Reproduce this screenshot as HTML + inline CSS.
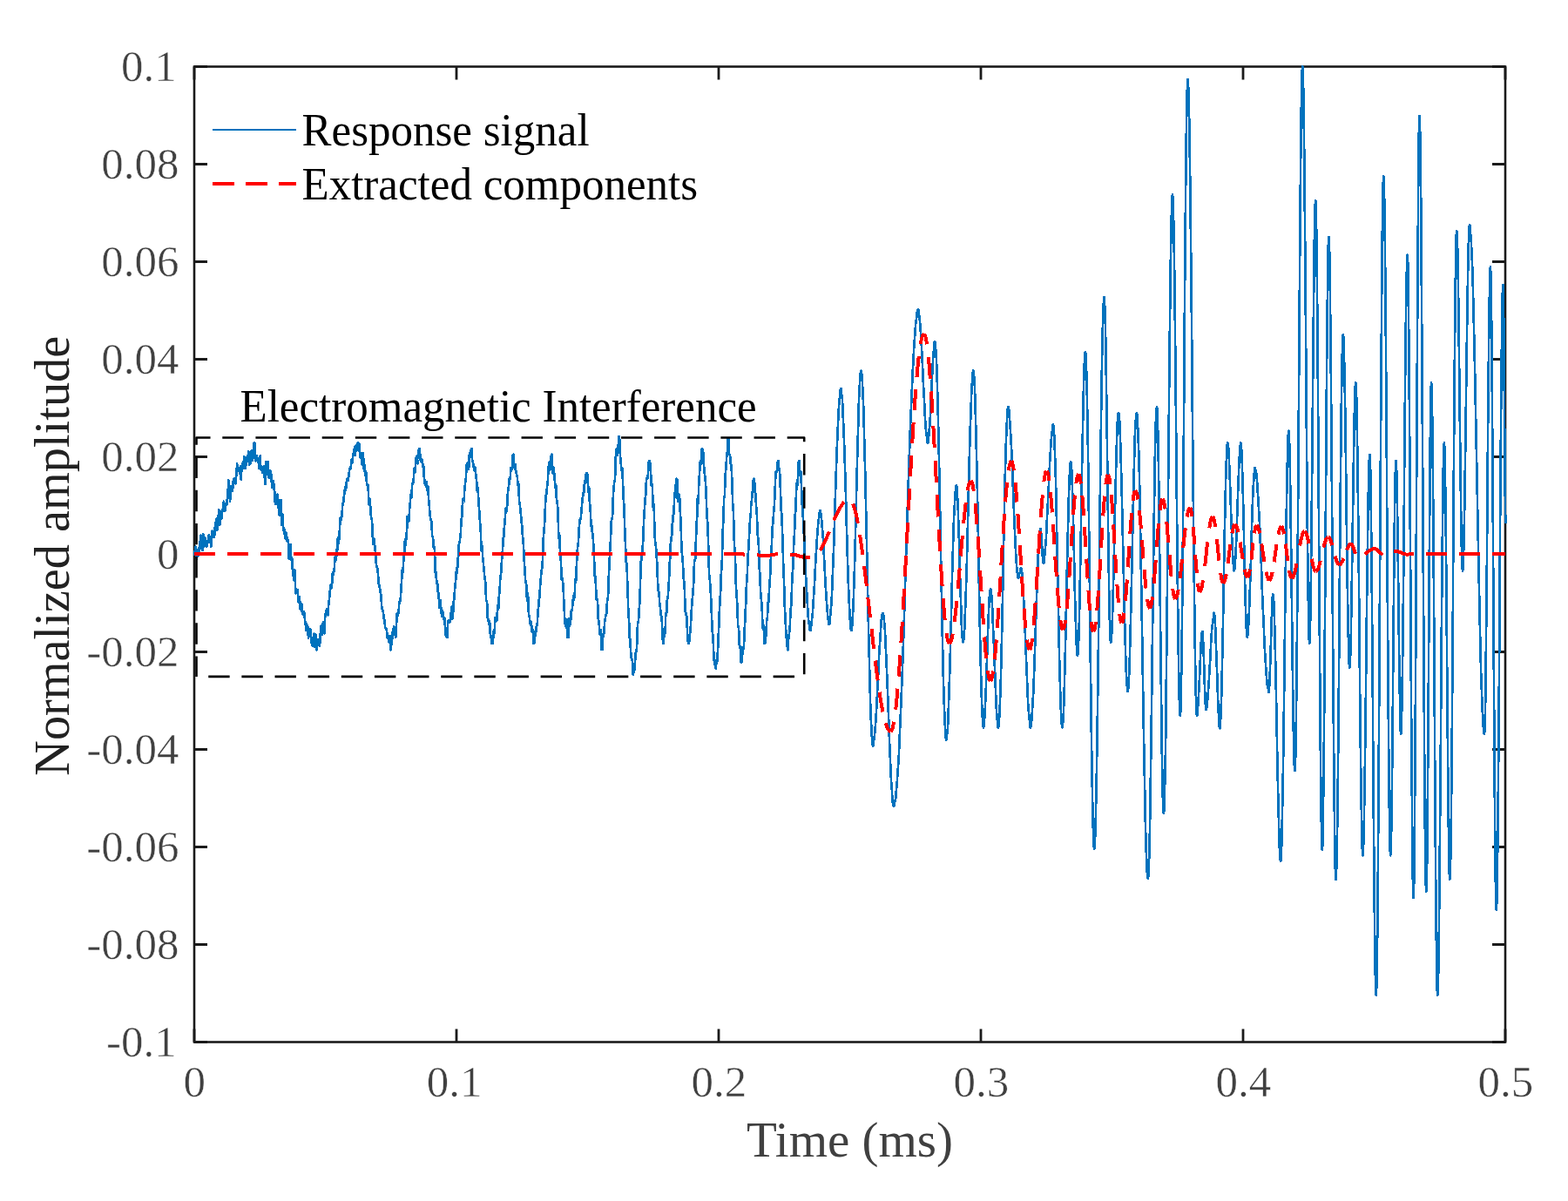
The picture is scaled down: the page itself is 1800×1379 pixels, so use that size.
<!DOCTYPE html>
<html><head><meta charset="utf-8"><style>
html,body{margin:0;padding:0;background:#fff;}
body{width:1800px;height:1379px;overflow:hidden;}
svg{display:block;}
text{font-family:"Liberation Serif","Times New Roman",serif;}
</style></head><body>
<svg width="1800" height="1379" viewBox="0 0 1800 1379">
<rect width="1800" height="1379" fill="#fff"/>
<path d="M223.0 1196.5V1181.5M223.0 76.5V91.5M524.0 1196.5V1181.5M524.0 76.5V91.5M825.0 1196.5V1181.5M825.0 76.5V91.5M1126.0 1196.5V1181.5M1126.0 76.5V91.5M1427.0 1196.5V1181.5M1427.0 76.5V91.5M1728.0 1196.5V1181.5M1728.0 76.5V91.5M223 76.5H238M1728 76.5H1713M223 188.5H238M1728 188.5H1713M223 300.5H238M1728 300.5H1713M223 412.5H238M1728 412.5H1713M223 524.5H238M1728 524.5H1713M223 636.5H238M1728 636.5H1713M223 748.5H238M1728 748.5H1713M223 860.5H238M1728 860.5H1713M223 972.5H238M1728 972.5H1713M223 1084.5H238M1728 1084.5H1713M223 1196.5H238M1728 1196.5H1713" stroke="#1a1a1a" stroke-width="2.8" fill="none"/>
<rect x="223" y="76.5" width="1505" height="1120" fill="none" stroke="#1a1a1a" stroke-width="2.6"/>
<g fill="none" stroke-linejoin="round">
<path d="M223.0 636.0L223.4 636.9 223.8 632.7 224.2 628.7 224.6 627.8 225.0 629.0 225.4 637.0 225.8 642.0 226.2 634.7 226.6 631.7 227.0 637.2 227.4 638.7 227.8 633.7 228.2 629.4 228.6 633.4 229.0 634.0 229.4 626.7 229.8 621.5 230.2 617.2 230.6 614.8 231.0 617.5 231.4 621.8 231.8 624.5 232.2 629.7 232.6 632.0 233.0 622.6 233.4 613.5 233.8 619.1 234.2 627.6 234.6 624.7 235.0 618.2 235.4 617.6 235.8 617.7 236.2 622.1 236.6 627.3 237.0 623.6 237.4 624.7 237.8 627.4 238.2 622.3 238.6 620.8 239.0 622.7 239.4 618.7 239.8 614.2 240.2 621.0 240.5 623.0 240.9 616.2 241.3 618.8 241.7 618.6 242.1 618.9 242.5 627.5 242.9 621.6 243.3 609.7 243.7 612.0 244.1 615.5 244.5 614.2 244.9 614.1 245.3 613.5 245.7 617.0 246.1 616.6 246.5 608.3 246.9 604.5 247.3 604.0 247.7 600.8 248.1 595.8 248.5 595.7 248.9 601.9 249.3 609.0 249.7 605.6 250.1 592.7 250.5 591.9 250.9 593.1 251.3 585.6 251.7 586.8 252.1 596.3 252.5 602.5 252.9 599.2 253.3 590.7 253.7 586.9 254.1 591.5 254.5 595.5 254.9 588.7 255.3 584.8 255.7 586.5 256.1 584.5 256.5 579.1 256.9 575.7 257.3 577.2 257.7 581.5 258.1 587.1 258.5 585.8 258.9 581.4 259.3 579.6 259.7 578.8 260.1 579.8 260.5 578.5 260.9 572.5 261.3 567.1 261.7 564.3 262.1 555.4 262.5 551.5 262.9 557.8 263.3 561.4 263.7 570.8 264.1 576.1 264.5 564.0 264.9 557.8 265.3 563.1 265.7 564.2 266.1 560.2 266.5 559.8 266.9 563.5 267.3 559.7 267.7 552.1 268.1 552.6 268.5 552.0 268.9 549.0 269.3 549.3 269.7 551.1 270.1 555.3 270.5 554.9 270.9 549.3 271.3 545.7 271.7 540.2 272.1 532.5 272.5 535.6 272.9 538.7 273.3 536.5 273.7 538.3 274.1 538.4 274.5 540.0 274.8 541.9 275.2 544.1 275.6 539.6 276.0 535.5 276.4 546.6 276.8 550.7 277.2 541.4 277.6 535.6 278.0 532.7 278.4 533.7 278.8 538.0 279.2 535.4 279.6 530.8 280.0 527.9 280.4 524.4 280.8 527.9 281.2 536.1 281.6 538.0 282.0 537.2 282.4 532.5 282.8 526.3 283.2 525.3 283.6 526.3 284.0 527.4 284.4 526.7 284.8 522.6 285.2 518.0 285.6 525.0 286.0 533.8 286.4 526.1 286.8 521.0 287.2 530.7 287.6 532.5 288.0 522.5 288.4 520.0 288.8 517.8 289.2 517.1 289.6 525.9 290.0 528.9 290.4 524.8 290.8 523.8 291.2 525.4 291.6 508.5 292.0 508.5 292.4 508.5 292.8 520.2 293.2 529.3 293.6 528.5 294.0 526.9 294.4 526.3 294.8 523.0 295.2 524.9 295.6 528.8 296.0 527.4 296.4 526.4 296.8 531.4 297.2 537.4 297.6 537.4 298.0 531.9 298.4 523.7 298.8 523.3 299.2 534.9 299.6 538.9 300.0 535.1 300.4 537.0 300.8 541.0 301.2 542.8 301.6 540.1 302.0 538.8 302.4 538.8 302.8 535.3 303.2 539.1 303.6 544.9 303.9 549.6 304.3 556.1 304.7 549.9 305.1 532.9 305.5 530.3 305.9 538.7 306.3 539.1 306.7 542.9 307.1 544.5 307.5 532.2 307.9 530.2 308.3 542.8 308.7 548.5 309.1 548.1 309.5 547.3 309.9 542.1 310.3 540.7 310.7 545.4 311.1 543.8 311.5 544.9 311.9 554.8 312.3 560.2 312.7 558.5 313.1 554.0 313.5 552.1 313.9 552.6 314.3 556.6 314.7 561.6 315.1 563.7 315.5 568.6 315.9 578.0 316.3 579.1 316.7 572.2 317.1 574.0 317.5 576.6 317.9 571.5 318.3 567.7 318.7 574.1 319.1 582.9 319.5 583.5 319.9 582.4 320.3 586.4 320.7 591.7 321.1 584.3 321.5 574.3 321.9 574.5 322.3 574.0 322.7 575.5 323.1 586.5 323.5 602.8 323.9 598.8 324.3 590.3 324.7 595.7 325.1 607.0 325.5 608.6 325.9 606.5 326.3 607.5 326.7 611.5 327.1 617.0 327.5 618.4 327.8 613.7 328.2 611.6 328.6 615.1 329.0 619.4 329.4 621.1 329.8 617.5 330.2 619.2 330.6 621.0 331.0 624.2 331.4 638.8 331.8 642.2 332.2 635.8 332.6 638.3 333.0 633.1 333.4 625.1 333.8 634.2 334.2 643.1 334.6 641.7 335.0 639.9 335.4 643.5 335.8 652.3 336.2 660.0 336.6 660.1 337.0 662.1 337.4 666.0 337.8 660.9 338.2 653.8 338.6 657.8 339.0 673.3 339.4 681.4 339.8 680.6 340.2 677.4 340.6 676.7 341.0 677.0 341.4 677.2 341.8 678.8 342.2 684.8 342.6 691.2 343.0 690.8 343.4 687.0 343.8 685.2 344.2 690.2 344.6 698.7 345.0 699.6 345.4 696.4 345.8 693.8 346.2 693.6 346.6 699.8 347.0 704.7 347.4 703.3 347.8 702.9 348.2 705.4 348.6 704.7 349.0 702.5 349.4 704.7 349.8 709.8 350.2 713.6 350.6 714.4 351.0 719.7 351.4 723.8 351.7 718.8 352.1 716.6 352.5 719.9 352.9 719.8 353.3 719.3 353.7 727.4 354.1 733.0 354.5 727.9 354.9 722.6 355.3 722.9 355.7 724.4 356.1 721.8 356.5 724.8 356.9 731.0 357.3 731.7 357.7 736.8 358.1 740.7 358.5 737.5 358.9 739.5 359.3 741.9 359.7 735.5 360.1 728.3 360.5 727.5 360.9 734.9 361.3 742.8 361.7 739.9 362.1 731.4 362.5 728.6 362.9 746.2 363.3 746.2 363.7 746.2 364.1 736.1 364.5 735.9 364.9 733.9 365.3 733.9 365.7 734.5 366.1 734.5 366.5 738.6 366.9 742.1 367.3 737.9 367.7 728.7 368.1 723.9 368.5 723.2 368.9 718.0 369.3 719.0 369.7 727.9 370.1 729.0 370.5 720.8 370.9 714.1 371.2 714.3 371.6 717.1 372.0 723.6 372.4 727.2 372.8 718.5 373.2 707.8 373.6 704.7 374.0 706.4 374.4 704.3 374.8 700.7 375.2 699.4 375.6 699.4 376.0 703.9 376.4 706.2 376.8 700.9 377.2 694.3 377.6 691.6 378.0 688.2 378.4 683.5 378.8 678.9 379.2 672.3 379.6 671.9 380.0 676.2 380.4 675.1 380.8 673.8 381.2 669.6 381.6 659.3 382.0 656.9 382.4 660.6 382.8 659.2 383.2 656.6 383.6 656.4 384.0 650.3 384.4 640.6 384.8 639.6 385.2 643.8 385.6 638.3 386.0 631.7 386.4 635.9 386.8 638.1 387.1 633.3 387.5 625.1 387.9 617.4 388.3 618.9 388.7 623.8 389.1 621.0 389.5 615.3 389.9 608.6 390.3 600.8 390.7 594.9 391.1 596.5 391.5 597.4 391.9 593.1 392.3 593.9 392.7 590.1 393.1 581.5 393.5 578.3 393.9 577.9 394.3 576.1 394.7 571.9 395.1 568.3 395.5 566.0 395.9 561.1 396.3 558.8 396.7 562.9 397.1 562.1 397.5 555.0 397.9 552.9 398.3 550.5 398.7 549.5 399.1 551.5 399.5 551.8 399.9 550.7 400.3 546.0 400.7 543.1 401.1 540.1 401.5 537.7 401.9 539.0 402.3 538.7 402.7 537.5 403.1 532.8 403.4 527.8 403.8 528.7 404.2 532.0 404.6 531.0 405.0 525.9 405.4 521.1 405.8 519.9 406.2 521.7 406.6 517.1 407.0 513.4 407.4 520.8 407.8 523.1 408.2 515.1 408.6 511.7 409.0 512.8 409.4 514.7 409.8 517.4 410.2 515.6 410.6 508.5 411.0 508.5 411.4 508.6 411.8 518.0 412.2 514.5 412.6 509.7 413.0 514.8 413.4 524.8 413.8 525.4 414.2 523.5 414.6 524.9 415.0 526.0 415.4 531.0 415.7 533.7 416.1 525.8 416.5 520.3 416.9 522.4 417.3 528.2 417.7 538.1 418.1 541.0 418.5 535.0 418.9 533.8 419.3 543.0 419.7 546.0 420.1 541.6 420.5 545.9 420.9 553.1 421.3 556.8 421.7 556.8 422.1 556.1 422.5 556.6 422.9 564.1 423.3 576.7 423.7 579.8 424.1 575.8 424.5 572.5 424.9 573.7 425.2 581.8 425.6 589.5 426.0 593.4 426.4 594.6 426.8 595.9 427.2 601.7 427.6 610.2 428.0 620.4 428.4 624.9 428.8 620.1 429.2 618.4 429.6 622.5 430.0 625.0 430.4 628.3 430.8 632.4 431.2 636.7 431.6 643.5 432.0 648.2 432.4 650.8 432.8 652.1 433.2 652.0 433.6 654.8 434.0 660.0 434.4 665.1 434.7 670.5 435.1 671.6 435.5 671.7 435.9 675.0 436.3 676.7 436.7 680.5 437.1 682.6 437.5 683.3 437.9 691.4 438.3 698.2 438.7 699.2 439.1 700.1 439.5 701.1 439.9 702.6 440.3 706.0 440.7 709.8 441.1 711.4 441.5 712.4 441.9 717.4 442.3 721.2 442.7 721.0 443.1 722.9 443.5 723.3 443.9 722.1 444.2 727.1 444.6 731.9 445.0 732.9 445.4 732.3 445.8 729.9 446.2 732.0 446.6 736.7 447.0 737.8 447.4 733.3 447.8 730.3 448.2 746.1 448.6 746.2 449.0 746.1 449.4 734.7 449.8 730.5 450.2 734.3 450.6 729.4 451.0 722.5 451.4 724.8 451.8 722.3 452.2 719.4 452.6 725.0 453.0 729.2 453.4 726.0 453.8 726.4 454.2 731.5 454.6 728.3 455.0 718.5 455.4 710.0 455.8 704.2 456.2 704.1 456.6 707.1 457.0 705.9 457.4 703.5 457.8 699.9 458.2 692.8 458.6 690.5 459.0 691.5 459.4 690.1 459.8 687.0 460.2 680.2 460.6 673.7 461.0 668.5 461.4 659.2 461.8 654.6 462.2 657.2 462.6 656.0 463.0 648.2 463.4 639.5 463.8 636.4 464.2 633.6 464.6 625.2 465.0 619.6 465.3 622.4 465.7 626.4 466.1 620.8 466.5 612.9 466.9 610.9 467.3 604.2 467.7 592.9 468.1 594.0 468.5 598.6 468.9 598.9 469.3 598.5 469.7 593.0 470.1 584.9 470.5 580.6 470.9 576.5 471.3 569.7 471.7 567.8 472.1 571.7 472.5 570.6 472.9 561.3 473.3 555.1 473.7 556.0 474.1 555.8 474.5 553.1 474.9 549.0 475.3 541.5 475.7 537.5 476.1 539.1 476.5 541.8 476.9 538.0 477.3 527.7 477.7 526.0 478.1 529.0 478.5 524.6 478.9 523.3 479.3 530.1 479.7 532.4 480.1 528.7 480.5 527.5 480.9 515.1 481.3 515.0 481.7 515.1 482.1 523.1 482.5 521.7 482.9 524.8 483.3 526.8 483.7 530.6 484.1 530.2 484.5 527.7 484.9 529.7 485.3 534.0 485.7 536.7 486.1 535.0 486.5 537.8 486.9 549.0 487.3 553.4 487.7 555.6 488.1 551.7 488.5 553.5 488.9 558.4 489.3 555.2 489.7 553.3 490.1 559.6 490.5 563.5 490.9 560.3 491.3 558.3 491.7 564.7 492.1 574.1 492.5 577.2 492.9 581.0 493.3 588.0 493.7 592.0 494.1 594.3 494.5 596.6 494.9 597.4 495.3 599.1 495.7 605.6 496.1 614.5 496.5 616.5 496.9 615.9 497.3 620.1 497.7 627.1 498.1 630.3 498.5 627.7 498.9 630.5 499.3 644.0 499.7 657.3 500.1 658.8 500.5 656.6 500.9 664.2 501.3 670.2 501.7 666.8 502.1 668.3 502.5 676.4 502.9 680.3 503.3 680.4 503.7 684.0 504.1 694.2 504.5 697.8 504.9 696.9 505.3 692.3 505.7 689.5 506.1 695.7 506.5 701.5 506.9 705.2 507.3 707.6 507.7 703.2 508.1 701.7 508.5 706.9 508.9 709.1 509.3 709.5 509.7 711.1 510.1 708.9 510.5 709.7 510.9 719.1 511.3 724.9 511.7 728.9 512.1 730.8 512.5 721.2 512.9 731.9 513.3 732.0 513.7 731.9 514.1 716.2 514.5 715.3 514.9 712.1 515.3 712.8 515.7 712.6 516.1 714.1 516.5 714.3 516.9 711.5 517.3 709.3 517.7 705.7 518.1 700.1 518.5 696.7 518.9 702.6 519.3 710.7 519.7 707.9 520.1 704.9 520.5 695.1 520.9 689.3 521.3 688.7 521.7 683.4 522.1 676.2 522.5 672.4 522.9 668.6 523.3 664.0 523.7 658.4 524.1 652.4 524.5 654.5 524.9 657.9 525.3 649.1 525.7 640.9 526.1 639.7 526.5 634.0 526.9 624.3 527.3 622.3 527.7 623.0 528.1 618.0 528.5 614.6 528.9 611.3 529.3 602.4 529.7 595.4 530.1 594.5 530.5 590.3 530.9 578.9 531.3 573.4 531.7 575.1 532.1 576.4 532.5 576.5 532.9 569.9 533.3 560.7 533.7 558.6 534.1 555.1 534.5 550.8 534.9 549.0 535.3 540.4 535.7 533.6 536.1 533.3 536.5 531.6 536.9 532.7 537.3 536.5 537.7 539.1 538.1 539.0 538.5 530.1 538.9 521.3 539.3 520.3 539.7 519.8 540.1 520.9 540.5 524.4 540.9 515.1 541.3 515.0 541.7 515.1 542.1 528.3 542.5 528.7 542.9 530.7 543.3 532.3 543.7 534.9 544.1 538.7 544.4 539.8 544.8 540.3 545.2 539.0 545.6 536.8 546.0 541.1 546.4 547.5 546.8 549.5 547.2 553.8 547.6 563.5 548.0 564.7 548.4 559.4 548.8 561.9 549.2 571.7 549.6 578.7 550.0 583.0 550.3 588.4 550.7 594.5 551.1 600.3 551.5 604.1 551.9 611.6 552.3 625.6 552.7 632.2 553.1 627.2 553.5 626.6 553.9 634.8 554.3 641.9 554.7 643.9 555.1 648.7 555.5 655.1 555.9 657.2 556.2 661.2 556.6 664.6 557.0 666.5 557.4 671.0 557.8 682.0 558.2 689.9 558.6 690.5 559.0 689.8 559.4 698.2 559.8 709.0 560.2 712.5 560.6 710.7 561.0 712.0 561.4 716.6 561.8 715.8 562.1 713.7 562.5 720.3 562.9 729.3 563.3 732.0 563.7 731.0 564.1 729.8 564.5 738.9 564.9 739.0 565.3 738.9 565.7 738.5 566.1 734.0 566.5 725.3 566.9 724.1 567.3 727.0 567.7 726.3 568.1 716.7 568.5 709.0 568.9 710.7 569.3 712.5 569.7 713.1 570.1 713.2 570.5 709.4 570.9 702.0 571.3 695.6 571.7 698.5 572.1 700.0 572.5 692.8 572.9 683.6 573.3 681.1 573.7 677.5 574.1 666.8 574.5 661.0 574.9 660.8 575.3 655.9 575.7 648.2 576.1 642.7 576.5 637.6 576.9 632.5 577.3 625.2 577.7 617.8 578.1 617.2 578.5 614.4 578.9 605.3 579.3 601.5 579.7 598.3 580.1 590.9 580.5 585.3 580.9 582.8 581.3 587.3 581.7 586.8 582.1 582.7 582.5 572.6 582.9 566.9 583.3 562.6 583.7 560.8 584.1 557.6 584.5 550.7 584.9 549.5 585.3 550.2 585.7 549.1 586.1 543.1 586.5 537.2 586.9 538.6 587.3 539.6 587.7 537.4 588.1 534.9 588.5 527.7 588.9 521.8 589.3 521.7 589.7 521.8 590.1 535.4 590.5 536.6 590.9 538.3 591.3 534.8 591.7 533.3 592.1 539.4 592.4 542.8 592.8 542.5 593.2 546.5 593.6 546.0 594.0 548.1 594.4 557.2 594.8 557.3 595.2 555.0 595.6 562.8 596.0 574.4 596.4 578.9 596.8 578.7 597.2 583.8 597.6 588.5 598.0 590.2 598.3 595.4 598.7 599.7 599.1 601.8 599.5 607.1 599.9 614.4 600.3 619.2 600.7 622.1 601.1 629.7 601.5 639.6 601.9 645.5 602.3 652.2 602.7 658.6 603.1 665.2 603.5 669.3 603.9 668.3 604.2 671.0 604.6 678.8 605.0 689.6 605.4 690.3 605.8 681.2 606.2 685.2 606.6 698.0 607.0 705.5 607.4 707.4 607.8 708.4 608.2 712.4 608.6 715.7 609.0 718.0 609.4 716.8 609.8 713.7 610.1 717.4 610.5 722.2 610.9 726.0 611.3 725.1 611.7 723.5 612.1 725.3 612.5 738.9 612.9 739.0 613.3 738.8 613.7 725.0 614.1 730.4 614.5 730.0 614.9 727.1 615.3 725.4 615.7 721.1 616.1 717.2 616.5 717.7 616.9 714.9 617.3 706.7 617.7 700.5 618.1 697.3 618.5 692.0 618.9 687.8 619.3 685.8 619.7 680.6 620.1 673.3 620.5 666.7 620.9 663.4 621.3 658.6 621.7 654.5 622.1 653.5 622.5 648.7 622.9 643.4 623.3 633.6 623.7 619.8 624.1 613.3 624.5 610.6 624.9 604.9 625.3 597.6 625.7 587.5 626.1 578.4 626.5 572.3 626.9 567.6 627.3 567.0 627.7 563.1 628.1 557.5 628.5 556.4 628.9 552.0 629.3 541.8 629.7 536.3 630.1 533.3 630.5 530.6 630.9 534.4 631.3 539.7 631.7 535.9 632.1 532.1 632.5 529.8 632.9 521.9 633.3 521.7 633.7 521.9 634.1 539.3 634.5 543.3 634.9 540.7 635.3 536.8 635.7 537.6 636.1 542.7 636.5 547.7 636.9 552.0 637.3 558.1 637.7 560.0 638.1 556.2 638.5 562.6 638.9 573.3 639.3 574.9 639.7 577.1 640.1 581.7 640.5 587.1 640.9 601.6 641.3 616.0 641.7 618.6 642.1 613.4 642.5 617.0 642.8 628.6 643.2 637.9 643.6 639.8 644.0 646.0 644.4 658.7 644.8 665.3 645.2 664.4 645.6 663.6 646.0 667.4 646.4 672.1 646.8 678.6 647.2 689.5 647.6 696.6 648.0 705.2 648.4 715.5 648.8 714.1 649.2 710.3 649.6 717.1 650.0 720.8 650.4 715.0 650.8 713.5 651.2 714.5 651.6 731.8 652.0 732.0 652.4 731.9 652.8 710.4 653.2 715.9 653.6 717.6 654.0 718.3 654.4 717.0 654.8 716.2 655.2 712.0 655.5 703.4 655.9 701.4 656.3 701.8 656.7 701.0 657.1 697.5 657.5 690.2 657.9 688.3 658.3 690.0 658.7 685.0 659.1 681.4 659.5 686.0 659.9 681.2 660.3 665.4 660.7 664.8 661.1 667.8 661.5 660.8 661.9 649.3 662.3 640.8 662.6 634.4 663.0 629.5 663.4 626.6 663.8 624.1 664.2 617.2 664.6 608.5 665.0 603.0 665.4 599.9 665.8 595.9 666.2 595.3 666.6 596.3 667.0 592.3 667.4 587.4 667.8 582.8 668.2 577.5 668.6 572.5 669.0 570.6 669.4 568.0 669.8 565.0 670.1 566.2 670.5 562.2 670.9 555.0 671.3 552.6 671.7 552.8 672.1 553.1 672.5 554.3 672.9 543.1 673.3 543.0 673.7 543.2 674.1 543.9 674.5 546.2 674.9 555.4 675.3 565.1 675.7 563.9 676.1 558.9 676.5 565.5 676.9 577.7 677.3 580.2 677.7 582.3 678.0 593.3 678.4 599.8 678.8 604.6 679.2 603.3 679.6 607.9 680.0 612.7 680.4 613.2 680.8 617.2 681.2 625.0 681.6 631.2 682.0 639.4 682.4 652.8 682.8 662.1 683.2 661.4 683.6 663.9 684.0 672.6 684.4 682.1 684.8 688.5 685.2 688.4 685.6 687.5 686.0 690.1 686.4 699.2 686.7 710.2 687.1 713.2 687.5 713.1 687.9 717.9 688.3 725.0 688.7 728.3 689.1 727.8 689.5 725.7 689.9 722.9 690.3 729.2 690.7 746.0 691.1 746.2 691.5 746.0 691.9 733.8 692.3 730.5 692.7 727.5 693.1 727.8 693.5 727.0 693.8 720.4 694.2 713.2 694.6 711.6 695.0 709.0 695.4 706.1 695.8 706.1 696.2 704.9 696.6 698.7 697.0 690.9 697.4 688.6 697.8 686.4 698.2 681.0 698.5 672.4 698.9 660.0 699.3 652.0 699.7 644.7 700.1 634.1 700.5 627.6 700.9 621.1 701.3 610.4 701.7 599.9 702.1 595.4 702.5 595.8 702.9 594.7 703.3 588.2 703.6 577.4 704.0 567.2 704.4 560.8 704.8 557.4 705.2 553.5 705.6 552.8 706.0 550.6 706.4 538.0 706.8 525.3 707.2 519.8 707.6 515.6 708.0 517.4 708.3 523.2 708.7 518.0 709.1 511.1 709.5 516.1 709.9 518.6 710.3 501.2 710.7 501.0 711.1 501.4 711.5 515.3 711.9 521.1 712.3 526.8 712.7 531.4 713.1 535.9 713.5 539.9 713.9 538.4 714.3 537.0 714.7 545.8 715.1 556.4 715.5 564.8 715.9 574.3 716.3 579.2 716.7 588.1 717.1 604.3 717.5 614.6 717.9 622.3 718.3 634.4 718.7 644.8 719.1 646.3 719.5 646.8 719.9 658.5 720.3 671.5 720.7 681.4 721.1 696.2 721.5 707.9 721.9 710.0 722.3 718.1 722.7 731.9 723.1 733.3 723.5 734.2 723.9 744.5 724.3 750.8 724.7 753.7 725.1 758.3 725.5 758.0 725.9 757.7 726.3 774.3 726.7 774.7 727.1 774.5 727.5 762.6 727.9 767.5 728.3 769.7 728.7 763.2 729.1 758.9 729.5 754.0 729.9 748.9 730.3 748.6 730.7 747.4 731.1 742.5 731.4 732.3 731.8 721.2 732.2 715.8 732.6 714.2 733.0 711.9 733.4 706.7 733.8 698.8 734.2 693.3 734.6 686.5 735.0 671.2 735.4 654.9 735.8 644.8 736.2 643.1 736.6 642.5 737.0 635.6 737.4 630.4 737.8 627.2 738.2 621.9 738.6 612.2 739.0 599.3 739.4 590.8 739.8 585.8 740.2 579.4 740.6 572.2 740.9 571.0 741.3 567.1 741.7 556.5 742.1 551.3 742.5 549.2 742.9 549.5 743.3 549.9 743.7 547.0 744.1 542.0 744.5 538.3 744.9 529.2 745.3 529.0 745.7 529.3 746.1 537.8 746.5 531.5 746.9 536.4 747.3 549.4 747.7 557.2 748.1 558.1 748.5 555.9 748.9 559.2 749.3 572.9 749.6 581.9 750.0 580.4 750.4 578.7 750.8 583.8 751.2 601.4 751.6 613.2 752.0 620.1 752.4 623.9 752.8 626.0 753.2 630.2 753.6 638.5 754.0 642.0 754.4 649.1 754.8 661.4 755.2 670.8 755.6 676.8 756.0 679.8 756.4 680.1 756.8 684.3 757.2 692.7 757.5 696.3 757.9 697.1 758.3 702.0 758.7 706.4 759.1 707.2 759.5 710.2 759.9 714.5 760.3 723.8 760.7 733.1 761.1 738.7 761.5 739.0 761.9 738.7 762.3 728.8 762.7 725.9 763.1 725.4 763.5 726.9 763.9 718.2 764.2 706.9 764.6 704.1 765.0 706.3 765.4 701.4 765.8 690.2 766.2 686.1 766.6 687.5 767.0 682.4 767.4 673.8 767.8 670.0 768.2 661.0 768.6 647.7 769.0 643.6 769.3 640.9 769.7 628.4 770.1 617.1 770.5 617.1 770.9 620.4 771.3 612.0 771.7 602.1 772.1 600.7 772.5 594.1 772.9 590.5 773.3 590.8 773.7 584.3 774.1 573.9 774.4 567.1 774.8 566.1 775.2 558.2 775.6 557.1 776.0 569.7 776.4 550.0 776.8 549.7 777.2 550.0 777.6 569.4 778.0 574.7 778.4 575.6 778.8 569.6 779.2 567.2 779.6 569.0 780.0 570.4 780.4 575.5 780.8 587.1 781.2 594.1 781.6 601.8 782.0 614.6 782.4 628.8 782.8 634.9 783.2 638.1 783.6 643.9 783.9 646.7 784.3 654.5 784.7 663.5 785.1 666.4 785.5 670.8 785.9 678.2 786.3 691.6 786.7 701.9 787.1 702.9 787.5 704.9 787.9 706.5 788.3 707.1 788.7 715.3 789.1 730.9 789.5 736.0 789.9 732.0 790.3 738.7 790.7 739.0 791.1 738.7 791.5 729.9 791.9 728.5 792.3 725.8 792.7 721.8 793.1 714.5 793.5 706.0 793.9 699.0 794.3 694.3 794.6 689.9 795.0 685.4 795.4 680.4 795.8 676.9 796.2 669.5 796.6 656.3 797.0 646.9 797.4 643.2 797.8 643.8 798.2 641.3 798.6 629.2 799.0 618.1 799.4 609.0 799.8 598.8 800.2 592.9 800.6 578.4 801.0 569.2 801.4 578.0 801.8 572.9 802.2 556.4 802.5 549.5 802.9 545.9 803.3 538.6 803.7 530.3 804.1 529.2 804.5 532.2 804.9 533.3 805.3 532.8 805.7 515.3 806.1 515.0 806.5 515.4 806.9 523.2 807.3 519.5 807.7 525.6 808.1 536.2 808.5 539.2 808.9 544.0 809.3 547.8 809.7 549.9 810.1 556.8 810.5 564.6 810.9 574.3 811.3 587.1 811.7 594.9 812.1 597.5 812.5 604.9 812.9 617.3 813.3 629.7 813.7 646.1 814.0 656.9 814.4 664.0 814.8 665.6 815.2 670.8 815.6 676.5 816.0 683.2 816.4 692.2 816.8 702.2 817.2 713.2 817.6 722.5 818.0 727.1 818.4 729.4 818.8 736.7 819.2 748.7 819.6 756.5 820.0 760.7 820.4 763.2 820.8 762.3 821.2 767.2 821.6 767.6 822.0 767.1 822.4 757.7 822.8 758.3 823.2 759.5 823.6 752.0 824.0 747.0 824.4 740.1 824.8 729.0 825.2 719.6 825.6 709.1 826.0 698.9 826.4 691.6 826.8 685.0 827.2 678.0 827.6 665.9 828.0 655.5 828.4 653.6 828.8 645.8 829.2 629.4 829.6 614.1 830.0 603.9 830.4 596.8 830.8 583.4 831.2 570.0 831.6 571.4 832.0 567.3 832.4 550.0 832.8 543.5 833.2 539.3 833.6 533.4 834.0 528.4 834.4 519.6 834.8 519.4 835.2 521.9 835.6 503.5 836.0 503.0 836.4 503.4 836.8 517.2 837.2 521.3 837.6 521.7 838.0 523.0 838.4 526.2 838.8 533.1 839.2 534.3 839.6 534.1 840.0 544.3 840.4 554.0 840.8 566.4 841.2 578.9 841.6 580.7 842.0 589.7 842.4 606.9 842.8 619.1 843.2 629.4 843.5 634.5 843.9 638.2 844.3 651.5 844.7 667.6 845.1 676.5 845.5 681.1 845.9 687.7 846.3 694.5 846.7 705.4 847.1 718.4 847.5 720.0 847.9 718.8 848.3 727.4 848.7 738.6 849.1 743.4 849.5 742.4 849.9 742.7 850.3 743.0 850.7 760.0 851.1 760.4 851.5 760.0 851.9 748.4 852.3 749.3 852.7 751.0 853.1 745.9 853.5 742.7 853.9 742.8 854.3 733.9 854.6 723.2 855.0 718.9 855.4 710.6 855.8 699.6 856.2 693.1 856.6 682.6 857.0 670.5 857.4 666.0 857.8 660.8 858.2 649.1 858.6 638.2 859.0 633.6 859.4 629.9 859.8 620.7 860.2 611.9 860.6 605.6 861.0 596.7 861.4 593.6 861.8 591.9 862.1 581.5 862.5 576.4 862.9 576.0 863.3 569.6 863.7 564.8 864.1 566.4 864.5 562.4 864.9 550.1 865.3 549.7 865.7 550.1 866.1 553.8 866.5 556.7 866.9 562.4 867.3 568.2 867.6 572.0 868.0 579.2 868.4 585.6 868.8 589.3 869.2 600.3 869.6 612.7 870.0 615.8 870.4 617.9 870.8 624.5 871.2 632.7 871.5 645.4 871.9 655.0 872.3 658.6 872.7 668.4 873.1 679.5 873.5 684.4 873.9 688.4 874.3 691.8 874.7 696.9 875.1 709.6 875.5 720.9 875.8 719.8 876.2 717.5 876.6 720.7 877.0 725.9 877.4 738.6 877.8 739.0 878.2 738.7 878.6 734.8 879.0 732.2 879.4 728.5 879.8 720.6 880.2 712.3 880.6 709.8 881.0 708.1 881.4 698.8 881.8 691.6 882.2 691.9 882.6 686.7 883.0 677.9 883.4 671.9 883.8 666.7 884.2 658.7 884.6 646.5 885.0 639.5 885.4 637.4 885.7 630.6 886.1 620.2 886.5 610.4 886.9 603.1 887.3 601.1 887.7 596.3 888.1 588.2 888.5 586.4 888.9 580.2 889.3 570.4 889.7 562.9 890.1 550.9 890.5 543.6 890.9 541.1 891.3 542.5 891.7 541.6 892.1 540.2 892.5 536.2 892.9 529.3 893.3 529.0 893.7 529.6 894.1 536.0 894.5 540.1 894.9 541.3 895.3 544.9 895.7 554.3 896.1 567.7 896.5 580.3 896.9 587.2 897.3 590.7 897.7 598.2 898.1 611.4 898.5 622.5 898.8 632.7 899.2 648.4 899.6 658.3 900.0 666.3 900.4 681.8 900.8 695.2 901.2 704.1 901.6 711.9 902.0 719.1 902.4 728.1 902.8 733.0 903.2 734.8 903.6 738.8 904.0 745.6 904.4 746.2 904.8 745.8 905.2 732.0 905.6 731.2 906.0 725.8 906.4 725.0 906.7 723.0 907.1 711.6 907.5 699.6 907.9 697.9 908.3 695.1 908.7 684.8 909.1 672.1 909.5 661.3 909.9 657.1 910.3 651.9 910.7 640.7 911.0 628.6 911.4 622.3 911.8 616.7 912.2 606.6 912.6 593.6 913.0 589.0 913.4 587.2 913.8 573.4 914.2 561.8 914.6 556.2 915.0 553.2 915.3 557.2 915.7 555.1 916.1 541.1 916.5 535.6 916.9 529.4 917.3 529.0 917.7 529.4 918.1 546.3 918.5 542.2 918.9 541.2 919.3 541.2 919.6 547.8 920.0 559.2 920.4 569.1 920.8 579.5 921.2 581.9 921.6 584.7 922.0 598.8 922.4 611.3 922.8 612.7 923.2 614.8 923.6 628.5 923.9 640.7 924.3 643.2 924.7 650.4 925.1 661.6 925.5 668.9 925.9 675.0 926.3 682.2 926.7 689.6 927.1 696.8 927.5 703.6 927.9 709.5 928.2 712.5 928.6 714.2 929.0 718.4 929.4 722.0 929.8 723.6 930.2 724.0 930.6 723.6 931.0 719.5 931.4 718.4 931.8 713.8 932.1 710.4 932.5 707.8 932.9 703.2 933.3 696.7 933.7 690.6 934.1 684.4 934.5 677.8 934.9 672.0 935.3 664.7 935.7 656.6 936.0 650.2 936.4 642.5 936.8 635.5 937.2 630.3 937.6 623.0 938.0 616.6 938.4 612.4 938.8 606.6 939.2 601.6 939.6 598.9 939.9 595.8 940.3 592.4 940.7 590.1 941.1 586.4 941.5 586.0 941.9 586.5 942.3 590.1 942.7 594.1 943.1 596.9 943.5 600.9 943.9 606.0 944.3 610.7 944.7 615.1 945.1 621.7 945.5 628.7 945.9 637.7 946.3 645.7 946.6 651.2 947.0 658.1 947.4 666.5 947.8 673.5 948.2 680.2 948.6 686.4 949.0 691.6 949.4 697.0 949.8 702.8 950.2 707.3 950.6 710.3 951.0 712.2 951.4 716.5 951.8 717.0 952.2 716.4 952.6 710.7 953.0 707.9 953.4 705.1 953.8 700.1 954.2 695.1 954.6 690.0 955.0 682.2 955.4 673.4 955.8 661.9 956.2 650.9 956.6 641.8 957.0 631.4 957.4 619.6 957.8 607.5 958.2 595.8 958.5 583.5 958.9 570.9 959.3 558.3 959.7 545.9 960.1 533.9 960.5 523.0 960.9 512.3 961.3 502.1 961.7 493.3 962.1 484.4 962.5 476.1 962.9 468.3 963.3 462.9 963.7 459.0 964.1 453.2 964.5 448.3 964.9 446.6 965.3 446.0 965.7 446.7 966.1 452.8 966.5 454.9 966.9 458.7 967.3 465.4 967.6 474.6 968.0 483.1 968.4 491.2 968.8 501.6 969.2 512.6 969.6 523.6 970.0 536.6 970.4 548.9 970.8 562.3 971.2 577.7 971.5 592.7 971.9 604.7 972.3 618.3 972.7 633.7 973.1 647.2 973.5 659.5 973.9 670.9 974.3 680.1 974.7 689.5 975.1 697.6 975.4 704.5 975.8 710.8 976.2 716.3 976.6 720.6 977.0 723.3 977.4 724.0 977.8 723.1 978.2 718.0 978.6 712.5 979.0 706.2 979.4 698.7 979.8 689.1 980.1 678.0 980.5 667.0 980.9 655.1 981.3 640.7 981.7 624.8 982.1 609.1 982.5 593.3 982.9 576.5 983.3 558.6 983.7 542.6 984.1 527.6 984.5 512.8 984.9 498.5 985.3 485.0 985.6 471.3 986.0 459.4 986.4 450.5 986.8 443.6 987.2 436.5 987.6 431.6 988.0 426.5 988.4 425.6 988.8 426.5 989.2 429.1 989.6 433.4 990.0 440.5 990.4 448.5 990.8 456.9 991.2 467.1 991.6 479.0 991.9 492.7 992.3 509.1 992.7 524.5 993.1 538.4 993.5 555.6 993.9 574.8 994.3 593.3 994.7 611.4 995.1 630.1 995.5 649.7 995.9 670.0 996.3 689.0 996.7 707.1 997.1 725.1 997.5 741.2 997.9 756.9 998.3 774.1 998.7 789.2 999.0 802.4 999.4 815.6 999.8 825.7 1000.2 832.3 1000.6 840.2 1001.0 848.8 1001.4 853.1 1001.8 855.6 1002.2 856.5 1002.6 856.0 1003.0 850.7 1003.4 848.3 1003.8 845.4 1004.2 841.1 1004.6 836.6 1005.0 832.7 1005.4 826.2 1005.8 819.6 1006.2 813.7 1006.6 806.0 1007.0 796.9 1007.4 787.9 1007.8 780.3 1008.2 773.9 1008.6 764.9 1009.0 754.8 1009.4 747.8 1009.8 741.9 1010.2 736.0 1010.6 729.7 1011.0 724.2 1011.4 717.5 1011.8 712.1 1012.2 708.7 1012.6 707.5 1013.0 704.5 1013.4 704.0 1013.8 704.5 1014.2 706.1 1014.6 708.7 1015.0 713.2 1015.4 716.9 1015.8 722.4 1016.2 730.0 1016.5 738.0 1016.9 745.3 1017.3 753.7 1017.7 763.7 1018.1 772.8 1018.5 781.6 1018.9 791.7 1019.3 802.9 1019.7 814.3 1020.1 824.1 1020.5 835.6 1020.9 847.2 1021.3 856.8 1021.7 865.8 1022.1 875.1 1022.5 885.8 1022.9 894.1 1023.2 899.1 1023.6 903.6 1024.0 909.4 1024.4 917.3 1024.8 921.3 1025.2 923.9 1025.6 925.5 1026.0 926.0 1026.4 925.7 1026.8 923.0 1027.2 921.1 1027.6 918.5 1028.0 918.1 1028.4 915.6 1028.8 909.1 1029.2 904.4 1029.6 901.0 1030.0 894.7 1030.4 889.1 1030.7 884.6 1031.1 878.8 1031.5 872.2 1031.9 865.9 1032.3 856.9 1032.7 846.8 1033.1 837.8 1033.5 828.0 1033.9 818.8 1034.3 809.9 1034.7 799.3 1035.1 789.7 1035.5 780.7 1035.9 769.7 1036.3 758.2 1036.7 746.2 1037.1 734.8 1037.5 723.1 1037.9 711.0 1038.3 698.5 1038.7 684.3 1039.1 670.3 1039.5 657.5 1039.9 646.1 1040.2 635.8 1040.6 623.7 1041.0 609.6 1041.4 596.4 1041.8 583.8 1042.2 570.6 1042.6 558.5 1043.0 546.7 1043.4 534.7 1043.8 524.2 1044.2 513.5 1044.6 501.3 1045.0 490.0 1045.4 480.3 1045.8 471.9 1046.2 461.8 1046.6 453.3 1047.0 444.2 1047.4 433.1 1047.8 424.6 1048.2 419.3 1048.6 412.1 1049.0 402.8 1049.4 396.2 1049.7 391.7 1050.1 386.8 1050.5 381.7 1050.9 375.9 1051.3 370.5 1051.7 367.5 1052.1 365.8 1052.5 361.0 1052.9 358.0 1053.3 357.0 1053.7 355.8 1054.1 355.5 1054.5 356.0 1054.9 359.5 1055.3 363.4 1055.7 366.9 1056.1 370.5 1056.5 375.4 1056.8 380.5 1057.2 385.6 1057.6 392.4 1058.0 399.3 1058.4 407.2 1058.8 415.7 1059.2 423.6 1059.6 433.4 1060.0 442.5 1060.4 448.9 1060.8 455.8 1061.2 464.2 1061.6 472.9 1062.0 480.2 1062.3 486.5 1062.7 491.7 1063.1 495.6 1063.5 498.6 1063.9 501.5 1064.3 505.2 1064.7 508.5 1065.1 509.0 1065.5 508.4 1065.9 504.3 1066.3 499.4 1066.6 495.2 1067.0 490.8 1067.4 487.7 1067.8 480.8 1068.2 472.1 1068.6 462.7 1069.0 454.7 1069.3 447.0 1069.7 439.7 1070.1 431.2 1070.5 422.8 1070.9 416.0 1071.3 409.1 1071.7 404.3 1072.0 401.6 1072.4 397.5 1072.8 392.6 1073.2 392.0 1073.6 393.0 1074.0 398.5 1074.4 403.8 1074.8 409.7 1075.2 419.4 1075.6 431.4 1076.0 443.9 1076.4 458.5 1076.8 474.3 1077.2 491.3 1077.6 509.1 1078.0 528.6 1078.4 548.1 1078.8 567.0 1079.2 588.9 1079.6 610.4 1079.9 630.6 1080.3 651.2 1080.7 672.4 1081.1 693.1 1081.5 714.4 1081.9 733.6 1082.3 751.9 1082.7 770.5 1083.1 786.2 1083.5 798.7 1083.9 810.3 1084.3 820.6 1084.7 829.5 1085.1 837.2 1085.5 843.3 1085.9 848.8 1086.3 849.8 1086.7 849.0 1087.1 843.3 1087.5 841.0 1087.9 836.5 1088.3 828.9 1088.7 817.4 1089.1 806.2 1089.5 794.9 1089.9 782.4 1090.3 770.4 1090.7 756.4 1091.1 741.3 1091.5 726.1 1091.9 711.8 1092.2 696.9 1092.6 679.8 1093.0 663.4 1093.4 649.3 1093.8 635.7 1094.2 620.9 1094.6 607.9 1095.0 596.6 1095.4 586.4 1095.8 581.0 1096.2 574.3 1096.6 567.5 1097.0 563.1 1097.4 557.8 1097.8 557.0 1098.2 558.1 1098.6 562.4 1099.0 568.8 1099.4 576.6 1099.8 583.9 1100.1 594.9 1100.5 607.5 1100.9 619.6 1101.3 633.8 1101.7 648.5 1102.1 662.0 1102.5 675.6 1102.9 687.2 1103.3 698.0 1103.6 711.6 1104.0 720.6 1104.4 727.9 1104.8 732.2 1105.2 736.4 1105.6 737.5 1106.0 736.7 1106.4 731.5 1106.8 728.3 1107.2 721.7 1107.5 713.0 1107.9 704.1 1108.3 694.6 1108.7 684.1 1109.1 670.8 1109.5 658.4 1109.9 645.3 1110.3 628.1 1110.7 611.6 1111.1 596.7 1111.4 583.6 1111.8 567.5 1112.2 550.8 1112.6 533.0 1113.0 518.6 1113.4 505.1 1113.8 491.5 1114.2 480.5 1114.6 469.1 1115.0 458.4 1115.3 449.5 1115.7 442.9 1116.1 436.9 1116.5 431.4 1116.9 426.4 1117.3 425.6 1117.7 426.7 1118.1 431.6 1118.5 436.7 1118.9 443.1 1119.2 452.8 1119.6 465.1 1120.0 481.7 1120.4 496.7 1120.8 513.2 1121.2 530.6 1121.6 548.0 1122.0 567.6 1122.4 588.0 1122.8 607.5 1123.2 628.7 1123.5 651.0 1123.9 671.7 1124.3 691.9 1124.7 712.7 1125.1 732.5 1125.5 750.9 1125.9 766.7 1126.3 781.0 1126.7 794.5 1127.0 805.7 1127.4 814.7 1127.8 823.0 1128.2 830.0 1128.6 834.3 1129.0 835.4 1129.4 834.4 1129.8 827.8 1130.2 824.3 1130.6 818.3 1131.0 809.9 1131.4 801.0 1131.8 791.9 1132.2 779.9 1132.6 767.6 1133.0 757.5 1133.4 745.5 1133.8 732.4 1134.2 721.0 1134.6 710.7 1135.0 702.0 1135.4 693.2 1135.8 685.6 1136.2 680.9 1136.6 677.5 1137.0 676.5 1137.4 677.2 1137.8 681.2 1138.2 682.9 1138.6 687.8 1139.0 693.9 1139.3 701.1 1139.7 711.1 1140.1 722.0 1140.5 730.8 1140.9 739.8 1141.3 750.1 1141.7 760.6 1142.1 770.6 1142.5 780.3 1142.9 790.8 1143.3 801.5 1143.7 810.1 1144.0 817.0 1144.4 822.4 1144.8 826.8 1145.2 830.6 1145.6 834.7 1146.0 835.4 1146.4 834.3 1146.8 828.0 1147.2 823.5 1147.6 817.9 1147.9 807.8 1148.3 796.6 1148.7 785.5 1149.1 771.2 1149.5 754.5 1149.9 737.8 1150.3 720.6 1150.7 701.9 1151.1 681.5 1151.5 660.3 1151.8 639.3 1152.2 619.7 1152.6 602.4 1153.0 584.3 1153.4 565.1 1153.8 547.0 1154.2 531.2 1154.6 516.9 1155.0 504.7 1155.4 496.0 1155.7 487.8 1156.1 480.5 1156.5 475.3 1156.9 468.1 1157.3 467.0 1157.7 467.5 1158.1 469.1 1158.5 473.7 1158.9 478.8 1159.2 483.6 1159.6 488.7 1160.0 494.8 1160.4 502.8 1160.8 510.3 1161.2 516.5 1161.6 524.2 1162.0 534.7 1162.4 547.4 1162.8 557.4 1163.2 566.5 1163.5 574.7 1163.9 584.9 1164.3 595.2 1164.7 604.6 1165.1 613.9 1165.5 622.5 1165.9 630.4 1166.3 638.2 1166.7 644.2 1167.0 648.8 1167.4 653.1 1167.8 657.2 1168.2 660.5 1168.6 663.5 1169.0 664.0 1169.4 663.7 1169.8 659.3 1170.1 659.1 1170.5 657.7 1170.9 656.9 1171.2 655.1 1171.6 652.3 1172.0 652.0 1172.4 652.6 1172.8 654.2 1173.2 657.5 1173.6 662.9 1174.0 668.1 1174.4 673.6 1174.8 680.2 1175.1 687.4 1175.5 695.2 1175.9 704.6 1176.3 714.8 1176.7 723.9 1177.1 732.5 1177.5 742.2 1177.9 753.5 1178.3 764.0 1178.7 772.7 1179.1 781.8 1179.5 793.1 1179.9 801.6 1180.2 808.5 1180.6 814.3 1181.0 818.7 1181.4 822.5 1181.8 826.5 1182.2 831.2 1182.6 834.8 1183.0 835.4 1183.4 834.7 1183.8 830.1 1184.2 827.3 1184.6 822.4 1185.0 816.1 1185.4 808.7 1185.8 802.0 1186.2 795.8 1186.6 786.2 1187.0 775.8 1187.4 764.2 1187.8 753.2 1188.2 741.4 1188.6 729.3 1189.0 717.1 1189.4 703.7 1189.8 691.5 1190.2 680.2 1190.6 669.2 1191.0 658.2 1191.4 646.6 1191.8 637.7 1192.2 629.9 1192.6 623.1 1193.0 618.2 1193.4 613.9 1193.8 610.0 1194.2 607.7 1194.6 607.0 1195.0 608.1 1195.3 615.2 1195.7 620.0 1196.0 624.2 1196.4 630.9 1196.7 637.4 1197.1 642.1 1197.4 645.9 1197.8 647.0 1198.2 646.5 1198.6 641.3 1199.0 639.4 1199.3 636.3 1199.7 631.9 1200.1 627.3 1200.5 623.7 1200.9 618.1 1201.3 610.1 1201.7 601.6 1202.0 594.0 1202.4 586.9 1202.8 579.1 1203.2 571.3 1203.6 563.7 1204.0 555.1 1204.4 546.4 1204.8 538.9 1205.1 531.3 1205.5 524.1 1205.9 518.2 1206.3 512.1 1206.7 505.8 1207.1 501.0 1207.5 497.9 1207.8 495.5 1208.2 493.2 1208.6 487.9 1209.0 487.4 1209.4 488.6 1209.8 495.6 1210.2 499.2 1210.5 505.9 1210.9 518.1 1211.3 529.9 1211.7 541.9 1212.1 557.2 1212.5 575.5 1212.9 595.3 1213.2 613.0 1213.6 630.2 1214.0 650.9 1214.4 672.4 1214.8 692.7 1215.2 709.2 1215.5 727.5 1215.9 745.9 1216.3 763.5 1216.7 777.4 1217.1 791.2 1217.5 805.3 1217.9 816.3 1218.2 822.4 1218.6 828.7 1219.0 834.2 1219.4 835.4 1219.8 834.2 1220.2 829.4 1220.6 824.4 1221.0 815.7 1221.4 804.7 1221.8 792.8 1222.1 777.5 1222.5 762.2 1222.9 748.0 1223.3 729.7 1223.7 710.2 1224.1 691.2 1224.5 671.2 1224.9 652.5 1225.3 634.4 1225.7 617.6 1226.1 602.4 1226.5 587.8 1226.8 573.3 1227.2 561.5 1227.6 551.0 1228.0 541.8 1228.4 535.8 1228.8 531.2 1229.2 530.0 1229.6 531.3 1230.0 536.8 1230.4 542.4 1230.7 551.8 1231.1 563.6 1231.5 577.5 1231.9 591.6 1232.3 607.2 1232.7 625.5 1233.1 642.6 1233.4 659.1 1233.8 676.2 1234.2 691.4 1234.6 705.4 1235.0 718.4 1235.4 729.0 1235.7 738.0 1236.1 746.1 1236.5 751.7 1236.9 753.0 1237.3 751.4 1237.7 746.4 1238.1 737.9 1238.5 726.9 1238.9 713.8 1239.2 698.2 1239.6 680.0 1240.0 658.9 1240.4 635.7 1240.8 614.2 1241.2 590.4 1241.6 564.7 1242.0 541.4 1242.4 520.6 1242.8 501.1 1243.2 481.0 1243.6 462.8 1243.9 446.7 1244.3 432.7 1244.7 420.9 1245.1 411.8 1245.5 405.6 1245.9 404.0 1246.3 406.1 1246.7 413.1 1247.1 423.9 1247.5 438.0 1247.9 455.3 1248.3 477.1 1248.7 500.3 1249.1 526.4 1249.5 556.5 1249.9 589.5 1250.3 620.9 1250.7 655.0 1251.1 690.7 1251.4 724.0 1251.8 755.9 1252.2 788.8 1252.6 821.6 1253.0 851.1 1253.4 876.3 1253.8 900.3 1254.2 923.8 1254.6 942.3 1255.0 955.1 1255.4 964.3 1255.8 972.7 1256.2 974.8 1256.6 973.0 1257.0 964.5 1257.4 955.6 1257.8 942.9 1258.1 926.4 1258.5 908.2 1258.9 886.4 1259.3 861.5 1259.7 834.0 1260.1 803.9 1260.5 773.8 1260.9 742.8 1261.3 710.1 1261.7 675.7 1262.0 639.1 1262.4 605.0 1262.8 573.3 1263.2 543.3 1263.6 512.4 1264.0 482.7 1264.4 453.8 1264.8 429.2 1265.2 405.8 1265.6 387.3 1265.9 374.1 1266.3 361.5 1266.7 351.8 1267.1 342.8 1267.5 341.0 1267.9 343.7 1268.3 354.7 1268.7 365.3 1269.1 383.0 1269.5 408.2 1269.9 434.0 1270.3 462.2 1270.7 492.0 1271.1 523.2 1271.5 555.9 1271.9 589.6 1272.3 620.4 1272.7 648.2 1273.1 674.0 1273.5 696.4 1273.9 714.0 1274.3 725.9 1274.7 735.3 1275.1 738.0 1275.5 736.8 1275.9 731.8 1276.3 725.3 1276.6 718.7 1277.0 708.8 1277.4 695.1 1277.8 679.7 1278.2 664.7 1278.6 647.9 1279.0 631.0 1279.4 614.9 1279.7 597.6 1280.1 581.6 1280.5 564.5 1280.9 548.2 1281.3 531.8 1281.7 516.2 1282.1 503.2 1282.5 492.9 1282.8 484.8 1283.2 478.8 1283.6 475.2 1284.0 474.0 1284.4 475.1 1284.8 478.3 1285.2 483.5 1285.6 492.6 1286.0 503.0 1286.4 514.9 1286.7 527.3 1287.1 540.3 1287.5 554.7 1287.9 571.5 1288.3 590.7 1288.7 608.6 1289.1 624.6 1289.5 641.9 1289.9 660.0 1290.3 677.3 1290.7 694.9 1291.1 713.5 1291.5 728.6 1291.9 742.5 1292.2 755.3 1292.6 765.5 1293.0 774.6 1293.4 781.5 1293.8 786.7 1294.2 792.9 1294.6 794.0 1295.0 792.8 1295.4 789.1 1295.8 783.1 1296.2 774.2 1296.6 763.4 1297.0 750.3 1297.3 736.8 1297.7 723.5 1298.1 707.6 1298.5 689.6 1298.9 672.0 1299.3 652.9 1299.7 633.9 1300.1 615.9 1300.5 596.0 1300.9 577.1 1301.3 561.8 1301.7 545.7 1302.1 528.4 1302.4 513.7 1302.8 502.0 1303.2 492.1 1303.6 485.9 1304.0 479.8 1304.4 475.2 1304.8 474.0 1305.2 475.2 1305.6 481.0 1306.0 486.7 1306.4 496.6 1306.8 506.9 1307.2 518.1 1307.6 531.1 1308.0 547.3 1308.3 565.6 1308.7 586.0 1309.1 608.4 1309.5 631.8 1309.9 655.7 1310.3 679.7 1310.7 703.5 1311.1 726.9 1311.5 752.1 1311.9 777.3 1312.3 802.2 1312.7 826.8 1313.1 850.3 1313.5 872.3 1313.9 893.5 1314.3 914.6 1314.6 933.3 1315.0 949.8 1315.4 964.9 1315.8 976.9 1316.2 986.6 1316.6 996.8 1317.0 1004.1 1317.4 1007.8 1317.8 1009.0 1318.2 1007.0 1318.6 1001.2 1319.0 990.7 1319.4 978.2 1319.8 960.6 1320.2 939.0 1320.5 916.3 1320.9 891.4 1321.3 863.3 1321.7 834.0 1322.1 803.4 1322.5 769.7 1322.9 736.8 1323.3 706.3 1323.7 675.6 1324.1 643.7 1324.5 613.0 1324.9 586.2 1325.3 561.6 1325.6 538.3 1326.0 516.3 1326.4 499.1 1326.8 485.3 1327.2 474.8 1327.6 469.0 1328.0 467.0 1328.4 469.9 1328.8 479.7 1329.2 495.5 1329.6 515.2 1330.0 538.1 1330.3 564.0 1330.7 595.5 1331.1 629.8 1331.5 663.7 1331.9 699.7 1332.3 738.2 1332.7 773.8 1333.1 803.6 1333.5 834.6 1333.8 862.2 1334.2 885.8 1334.6 906.4 1335.0 921.3 1335.4 931.1 1335.8 934.0 1336.2 931.4 1336.6 920.6 1337.0 908.0 1337.4 892.4 1337.8 871.5 1338.2 845.2 1338.5 811.9 1338.9 777.4 1339.3 740.9 1339.7 702.0 1340.1 661.3 1340.5 620.6 1340.9 579.2 1341.3 535.8 1341.7 492.3 1342.1 451.6 1342.5 412.7 1342.9 377.2 1343.3 345.0 1343.6 315.3 1344.0 288.7 1344.4 267.1 1344.8 249.5 1345.2 234.8 1345.6 226.2 1346.0 223.6 1346.4 226.6 1346.8 239.6 1347.2 254.0 1347.6 273.6 1348.0 297.9 1348.4 327.0 1348.8 361.6 1349.2 400.2 1349.6 439.8 1350.0 480.1 1350.4 522.4 1350.8 565.5 1351.2 606.5 1351.6 646.2 1352.0 684.9 1352.4 718.5 1352.8 748.1 1353.2 774.5 1353.6 794.8 1354.0 808.4 1354.4 818.6 1354.8 821.6 1355.2 817.9 1355.6 802.9 1356.0 785.7 1356.4 760.8 1356.8 730.1 1357.2 693.1 1357.6 650.9 1358.0 606.6 1358.4 559.3 1358.8 510.1 1359.2 458.5 1359.5 406.8 1359.9 355.1 1360.3 305.8 1360.7 260.7 1361.1 219.0 1361.5 181.5 1361.9 150.5 1362.3 126.1 1362.7 108.5 1363.1 95.0 1363.5 91.3 1363.9 93.8 1364.3 102.5 1364.7 113.2 1365.1 131.1 1365.4 152.9 1365.8 176.3 1366.2 205.2 1366.6 239.0 1367.0 274.9 1367.4 313.2 1367.8 351.6 1368.2 394.5 1368.6 437.3 1368.9 479.5 1369.3 520.0 1369.7 560.4 1370.1 599.9 1370.5 637.8 1370.9 672.3 1371.3 705.2 1371.7 735.0 1372.1 758.9 1372.4 779.9 1372.8 796.9 1373.2 809.0 1373.6 819.1 1374.0 821.6 1374.4 820.7 1374.8 814.6 1375.2 810.4 1375.6 804.8 1376.0 798.3 1376.4 790.8 1376.8 782.6 1377.2 773.6 1377.5 765.0 1377.9 756.7 1378.3 748.3 1378.7 740.1 1379.1 733.1 1379.5 729.2 1379.9 725.9 1380.3 725.0 1380.7 726.7 1381.1 735.8 1381.4 742.8 1381.8 752.3 1382.2 764.2 1382.6 777.2 1383.0 789.9 1383.4 799.7 1383.7 805.3 1384.1 813.3 1384.5 815.0 1384.9 814.5 1385.3 811.8 1385.7 810.0 1386.0 805.9 1386.4 801.0 1386.8 795.3 1387.2 790.0 1387.6 785.3 1388.0 778.5 1388.3 771.3 1388.7 765.5 1389.1 759.7 1389.5 752.7 1389.9 744.3 1390.2 736.7 1390.6 730.4 1391.0 724.9 1391.4 721.0 1391.8 717.3 1392.2 714.3 1392.5 711.7 1392.9 709.4 1393.3 704.1 1393.7 703.6 1394.1 704.7 1394.5 711.7 1394.9 716.4 1395.3 722.1 1395.6 732.0 1396.0 743.1 1396.4 754.1 1396.8 764.4 1397.2 773.9 1397.6 786.4 1398.0 800.2 1398.4 809.2 1398.7 816.0 1399.1 823.9 1399.5 828.5 1399.9 835.1 1400.3 836.2 1400.7 834.7 1401.1 827.5 1401.5 820.8 1401.8 810.5 1402.2 798.5 1402.6 782.4 1403.0 763.7 1403.4 744.8 1403.8 724.6 1404.2 703.3 1404.6 681.9 1404.9 660.7 1405.3 638.1 1405.7 616.1 1406.1 597.6 1406.5 580.5 1406.9 560.8 1407.3 544.8 1407.7 533.7 1408.0 525.1 1408.4 516.8 1408.8 510.0 1409.2 508.5 1409.6 509.5 1410.0 512.4 1410.4 517.6 1410.8 525.5 1411.2 534.8 1411.6 544.1 1412.0 554.2 1412.4 565.6 1412.8 577.3 1413.1 588.1 1413.5 597.5 1413.9 608.7 1414.3 620.2 1414.7 628.9 1415.1 637.0 1415.5 644.2 1415.9 648.6 1416.3 654.4 1416.7 655.4 1417.1 654.5 1417.5 650.8 1417.9 647.6 1418.2 641.2 1418.6 632.9 1419.0 625.9 1419.4 616.4 1419.8 603.7 1420.2 592.4 1420.6 582.1 1420.9 571.4 1421.3 560.8 1421.7 550.2 1422.1 539.9 1422.5 530.8 1422.9 522.9 1423.2 517.0 1423.6 513.3 1424.0 509.4 1424.4 508.5 1424.8 510.0 1425.2 516.4 1425.6 522.6 1425.9 533.7 1426.3 545.9 1426.7 560.3 1427.1 576.5 1427.5 593.6 1427.9 611.1 1428.2 628.6 1428.6 648.0 1429.0 665.3 1429.4 678.6 1429.8 693.3 1430.2 706.5 1430.5 714.6 1430.9 722.8 1431.3 730.2 1431.7 731.7 1432.1 730.8 1432.5 728.1 1432.9 722.5 1433.2 716.8 1433.6 710.1 1434.0 701.4 1434.4 690.7 1434.8 678.8 1435.2 667.4 1435.6 655.7 1436.0 642.1 1436.3 626.7 1436.7 613.8 1437.1 602.1 1437.5 589.7 1437.9 577.9 1438.3 567.7 1438.7 559.7 1439.1 553.9 1439.4 548.4 1439.8 544.4 1440.2 537.9 1440.6 537.0 1441.0 537.4 1441.4 542.6 1441.8 543.4 1442.2 543.2 1442.6 546.7 1443.0 551.0 1443.4 559.0 1443.8 564.9 1444.2 570.0 1444.6 577.5 1445.0 584.8 1445.4 590.5 1445.8 597.6 1446.2 606.7 1446.6 617.4 1447.0 627.3 1447.4 636.1 1447.8 645.2 1448.2 656.8 1448.5 667.7 1448.9 677.6 1449.3 687.7 1449.7 697.4 1450.1 704.9 1450.5 712.4 1450.9 721.7 1451.3 733.4 1451.7 742.2 1452.1 748.5 1452.5 755.1 1452.9 762.1 1453.3 768.3 1453.7 773.2 1454.1 779.1 1454.5 785.0 1454.9 787.7 1455.3 787.8 1455.7 789.1 1456.1 794.3 1456.5 794.7 1456.9 792.9 1457.3 785.7 1457.7 776.6 1458.1 764.6 1458.5 751.9 1458.9 739.7 1459.3 726.6 1459.7 713.6 1460.1 700.9 1460.5 691.7 1460.9 684.3 1461.3 682.5 1461.7 684.0 1462.1 688.7 1462.5 697.9 1462.9 708.9 1463.3 722.2 1463.7 738.5 1464.1 756.0 1464.5 773.9 1464.9 793.2 1465.3 814.3 1465.7 836.8 1466.1 858.8 1466.5 879.3 1466.9 899.0 1467.3 916.5 1467.7 932.8 1468.1 948.4 1468.5 963.6 1468.9 975.3 1469.3 982.9 1469.7 987.5 1470.1 989.0 1470.5 986.9 1470.9 980.3 1471.3 968.1 1471.6 953.6 1472.0 935.8 1472.4 914.4 1472.8 891.7 1473.2 865.7 1473.6 836.9 1474.0 807.3 1474.4 774.6 1474.8 741.3 1475.1 709.1 1475.5 677.7 1475.9 648.2 1476.3 620.7 1476.7 594.7 1477.1 570.6 1477.5 548.3 1477.9 528.8 1478.2 513.5 1478.6 503.6 1479.0 496.9 1479.4 494.8 1479.8 497.7 1480.2 510.4 1480.6 524.7 1481.0 543.6 1481.3 566.7 1481.7 594.1 1482.1 625.4 1482.5 657.5 1482.9 689.9 1483.3 725.2 1483.7 757.9 1484.1 787.8 1484.5 813.2 1484.8 835.9 1485.2 855.7 1485.6 872.0 1486.0 882.1 1486.4 885.0 1486.8 880.9 1487.2 868.7 1487.6 847.7 1488.0 820.3 1488.4 786.4 1488.8 745.3 1489.2 699.0 1489.6 649.1 1490.0 596.1 1490.4 539.9 1490.8 482.3 1491.2 425.5 1491.6 369.4 1492.0 315.0 1492.4 265.0 1492.8 219.3 1493.2 178.4 1493.6 142.0 1494.0 113.5 1494.4 93.2 1494.8 80.6 1495.2 76.5 1495.6 80.6 1496.0 92.6 1496.4 113.5 1496.8 142.3 1497.2 174.9 1497.6 213.8 1498.0 258.7 1498.4 305.0 1498.8 354.0 1499.2 405.5 1499.6 458.9 1500.0 511.1 1500.4 558.9 1500.8 601.1 1501.2 638.4 1501.6 671.7 1502.0 699.0 1502.4 718.5 1502.8 734.4 1503.2 738.5 1503.6 734.7 1504.0 721.8 1504.4 702.6 1504.8 675.8 1505.1 644.5 1505.5 609.5 1505.9 572.4 1506.3 530.0 1506.7 485.3 1507.1 441.7 1507.5 399.6 1507.9 360.5 1508.3 323.8 1508.6 291.7 1509.0 266.5 1509.4 246.7 1509.8 234.3 1510.2 230.5 1510.6 235.6 1511.0 252.6 1511.4 276.8 1511.8 311.0 1512.2 353.3 1512.6 400.3 1513.0 453.8 1513.4 514.0 1513.8 574.4 1514.2 633.8 1514.6 692.0 1515.0 750.4 1515.4 806.0 1515.8 855.3 1516.2 896.5 1516.6 928.5 1517.0 953.0 1517.4 970.4 1517.8 975.5 1518.2 971.2 1518.6 957.2 1518.9 934.4 1519.3 904.7 1519.7 869.1 1520.1 827.3 1520.5 781.6 1520.8 733.5 1521.2 680.5 1521.6 624.3 1522.0 567.9 1522.4 514.5 1522.7 464.9 1523.1 419.7 1523.5 378.0 1523.9 341.3 1524.3 310.7 1524.6 289.1 1525.0 276.3 1525.4 272.0 1525.8 276.1 1526.2 290.2 1526.6 309.2 1526.9 337.8 1527.3 373.1 1527.7 411.4 1528.1 455.6 1528.5 505.6 1528.9 558.1 1529.3 612.9 1529.6 669.9 1530.0 724.0 1530.4 773.9 1530.8 823.4 1531.2 869.8 1531.6 909.8 1532.0 943.7 1532.3 971.7 1532.7 992.4 1533.1 1005.9 1533.5 1010.0 1533.9 1006.5 1534.3 994.2 1534.7 977.7 1535.1 955.1 1535.5 925.7 1535.9 891.1 1536.3 851.9 1536.7 808.8 1537.1 764.2 1537.5 718.6 1537.8 672.9 1538.2 626.4 1538.6 581.8 1539.0 541.5 1539.4 502.8 1539.8 468.2 1540.2 441.1 1540.6 417.8 1541.0 400.4 1541.4 387.5 1541.8 384.0 1542.2 386.6 1542.6 397.9 1543.0 408.8 1543.4 425.7 1543.8 447.4 1544.2 470.9 1544.6 498.7 1545.0 530.7 1545.4 561.7 1545.7 591.3 1546.1 621.6 1546.5 652.2 1546.9 678.6 1547.3 702.3 1547.7 724.5 1548.1 742.4 1548.5 755.7 1548.9 764.0 1549.3 766.6 1549.7 764.1 1550.1 754.8 1550.5 741.7 1550.9 726.1 1551.2 706.9 1551.6 683.6 1552.0 657.7 1552.4 631.1 1552.8 605.1 1553.2 577.1 1553.6 549.0 1554.0 522.5 1554.4 500.0 1554.7 481.1 1555.1 464.6 1555.5 451.6 1555.9 442.1 1556.3 439.6 1556.7 442.6 1557.1 453.3 1557.5 468.1 1557.8 488.7 1558.2 514.7 1558.6 544.4 1559.0 577.6 1559.4 613.2 1559.8 650.9 1560.2 690.9 1560.5 731.3 1560.9 771.0 1561.3 810.1 1561.7 845.6 1562.1 877.2 1562.5 906.6 1562.9 932.6 1563.2 953.0 1563.6 966.3 1564.0 979.3 1564.4 982.3 1564.8 979.5 1565.2 968.6 1565.6 954.5 1566.0 935.0 1566.4 911.5 1566.8 885.1 1567.2 856.2 1567.6 823.4 1568.0 788.7 1568.4 752.3 1568.8 716.0 1569.2 681.4 1569.6 649.9 1570.0 620.0 1570.4 592.6 1570.8 567.7 1571.2 547.8 1571.6 534.8 1572.0 524.8 1572.4 522.0 1572.8 526.2 1573.2 539.8 1573.6 561.8 1573.9 589.7 1574.3 622.0 1574.7 663.1 1575.1 708.9 1575.5 755.3 1575.9 805.7 1576.2 859.0 1576.6 909.7 1577.0 955.1 1577.4 999.1 1577.8 1042.4 1578.2 1077.7 1578.5 1102.7 1578.9 1122.0 1579.3 1138.5 1579.7 1142.7 1580.1 1137.9 1580.5 1122.1 1580.9 1097.6 1581.3 1066.5 1581.7 1028.4 1582.0 980.5 1582.4 923.7 1582.8 865.7 1583.2 805.9 1583.6 739.0 1584.0 670.7 1584.4 605.1 1584.8 540.5 1585.2 477.7 1585.6 418.7 1586.0 365.1 1586.3 318.3 1586.7 278.4 1587.1 245.8 1587.5 222.5 1587.9 207.3 1588.3 202.5 1588.7 207.3 1589.1 223.9 1589.5 247.6 1589.9 280.1 1590.3 320.0 1590.7 366.4 1591.1 418.3 1591.5 474.5 1591.9 532.2 1592.2 592.4 1592.6 654.2 1593.0 713.4 1593.4 767.8 1593.8 818.4 1594.2 864.7 1594.6 906.0 1595.0 939.7 1595.4 962.0 1595.8 977.5 1596.2 982.3 1596.6 978.0 1597.0 963.6 1597.4 942.7 1597.8 913.4 1598.2 878.5 1598.6 839.6 1599.0 797.5 1599.3 753.6 1599.7 711.3 1600.1 670.6 1600.5 632.2 1600.9 597.4 1601.3 568.5 1601.7 547.9 1602.1 533.3 1602.5 529.0 1602.9 532.4 1603.3 543.4 1603.6 560.0 1604.0 582.2 1604.4 608.7 1604.8 640.1 1605.2 671.8 1605.5 702.6 1605.9 731.9 1606.3 761.5 1606.7 787.9 1607.1 809.5 1607.4 825.6 1607.8 839.6 1608.2 843.0 1608.6 839.3 1609.0 824.7 1609.4 807.1 1609.8 782.8 1610.2 751.3 1610.6 717.1 1611.0 679.6 1611.4 636.5 1611.8 590.9 1612.1 544.7 1612.5 499.2 1612.9 457.6 1613.3 418.3 1613.7 382.1 1614.1 352.9 1614.5 329.6 1614.9 310.6 1615.3 296.4 1615.7 292.7 1616.1 298.3 1616.5 317.5 1616.8 345.7 1617.2 381.3 1617.6 424.5 1618.0 476.3 1618.4 535.7 1618.8 597.7 1619.2 660.9 1619.5 725.7 1619.9 788.4 1620.3 845.5 1620.7 895.8 1621.1 941.1 1621.4 978.3 1621.8 1006.7 1622.2 1025.4 1622.6 1031.0 1623.0 1024.2 1623.4 1002.5 1623.8 969.6 1624.1 923.9 1624.5 867.8 1624.9 804.2 1625.3 734.1 1625.7 657.7 1626.0 580.0 1626.4 503.9 1626.8 430.5 1627.2 360.4 1627.6 296.5 1628.0 240.1 1628.3 193.6 1628.7 160.0 1629.1 139.8 1629.5 133.0 1629.9 138.5 1630.3 158.2 1630.7 184.7 1631.1 220.0 1631.5 264.7 1631.8 318.3 1632.2 378.3 1632.6 442.7 1633.0 510.1 1633.4 578.5 1633.8 646.9 1634.2 714.2 1634.6 779.1 1635.0 838.5 1635.3 890.1 1635.7 937.2 1636.1 975.7 1636.5 1000.6 1636.9 1018.5 1637.3 1024.0 1637.7 1017.7 1638.1 997.9 1638.5 967.3 1638.8 926.3 1639.2 878.4 1639.6 823.5 1640.0 763.8 1640.4 700.5 1640.8 641.4 1641.2 587.1 1641.6 538.8 1641.9 498.3 1642.3 466.5 1642.7 445.9 1643.1 439.6 1643.5 444.9 1643.9 461.2 1644.3 486.5 1644.7 521.4 1645.1 565.2 1645.5 615.1 1645.9 669.9 1646.3 729.8 1646.7 790.8 1647.0 850.3 1647.4 908.9 1647.8 965.3 1648.2 1015.1 1648.6 1057.2 1649.0 1092.1 1649.4 1117.9 1649.8 1137.7 1650.2 1143.0 1650.6 1139.1 1651.0 1124.8 1651.4 1106.9 1651.7 1082.8 1652.1 1050.7 1652.5 1012.2 1652.9 967.3 1653.3 921.7 1653.7 875.6 1654.1 826.0 1654.4 776.2 1654.8 727.8 1655.2 681.8 1655.6 640.6 1656.0 603.6 1656.4 570.9 1656.7 544.6 1657.1 525.7 1657.5 512.4 1657.9 508.5 1658.3 513.3 1658.7 531.4 1659.1 554.0 1659.5 582.8 1659.9 619.1 1660.3 663.3 1660.7 711.0 1661.1 759.0 1661.5 806.6 1661.9 852.4 1662.3 896.3 1662.7 936.5 1663.1 967.8 1663.5 988.6 1663.9 1005.2 1664.3 1010.0 1664.7 1005.4 1665.1 991.9 1665.5 968.4 1665.9 936.8 1666.3 901.2 1666.7 857.1 1667.1 805.9 1667.5 752.9 1667.9 697.0 1668.2 638.9 1668.6 579.0 1669.0 521.1 1669.4 469.5 1669.8 421.7 1670.2 377.5 1670.6 339.8 1671.0 309.2 1671.4 284.9 1671.8 269.6 1672.2 265.0 1672.6 268.3 1673.0 278.0 1673.4 293.9 1673.8 316.1 1674.2 345.4 1674.6 376.1 1675.0 409.3 1675.4 442.6 1675.8 477.7 1676.2 511.5 1676.6 544.3 1677.0 574.8 1677.4 604.0 1677.8 625.4 1678.2 639.2 1678.6 652.1 1679.0 655.4 1679.4 653.0 1679.8 644.0 1680.2 630.8 1680.6 614.6 1681.0 596.1 1681.4 573.1 1681.8 544.9 1682.2 516.4 1682.6 487.7 1683.0 457.1 1683.4 427.0 1683.8 397.6 1684.2 369.6 1684.6 343.3 1685.0 319.9 1685.4 298.7 1685.8 280.6 1686.2 268.9 1686.6 260.7 1687.0 258.3 1687.4 259.1 1687.8 265.4 1688.2 269.2 1688.6 273.7 1689.0 280.8 1689.4 288.3 1689.8 296.7 1690.2 307.7 1690.6 320.7 1691.0 333.9 1691.3 348.1 1691.7 364.1 1692.1 381.4 1692.5 399.2 1692.9 417.2 1693.3 435.2 1693.7 455.9 1694.1 477.7 1694.5 497.5 1694.9 518.0 1695.3 537.8 1695.7 559.0 1696.1 581.4 1696.5 603.1 1696.9 623.0 1697.3 643.6 1697.7 662.6 1698.1 681.3 1698.5 700.5 1698.9 719.8 1699.3 737.4 1699.7 751.7 1700.0 767.0 1700.4 780.5 1700.8 790.3 1701.2 801.4 1701.6 812.4 1702.0 821.3 1702.4 829.1 1702.8 835.0 1703.2 837.0 1703.6 841.7 1704.0 842.5 1704.4 838.5 1704.8 823.6 1705.2 804.8 1705.5 777.9 1705.9 745.0 1706.3 709.4 1706.7 667.5 1707.1 621.7 1707.5 573.3 1707.8 526.7 1708.2 482.3 1708.6 440.0 1709.0 402.1 1709.4 370.7 1709.8 344.9 1710.1 324.8 1710.5 310.5 1710.9 306.5 1711.3 312.7 1711.7 331.3 1712.1 361.5 1712.5 404.4 1712.9 455.3 1713.3 512.0 1713.7 574.2 1714.1 641.1 1714.5 709.5 1714.9 775.4 1715.3 837.6 1715.7 895.7 1716.1 946.6 1716.5 986.2 1716.9 1015.7 1717.3 1038.3 1717.7 1044.5 1718.1 1040.1 1718.5 1026.5 1718.9 1005.6 1719.2 976.0 1719.6 937.8 1720.0 894.1 1720.4 847.1 1720.8 797.5 1721.2 743.6 1721.6 687.5 1721.9 629.1 1722.3 573.7 1722.7 524.5 1723.1 477.2 1723.5 433.7 1723.9 397.7 1724.2 369.0 1724.6 346.5 1725.0 331.4 1725.4 327.0 1725.8 337.3 1726.2 368.8 1726.6 414.6 1727.0 466.5 1727.3 515.4 1727.7 558.3 1728.1 589.1 1728.5 600.8" stroke="#0072BD" stroke-width="2.7" shape-rendering="crispEdges"/>
<g transform="translate(0 -0.5)" stroke="#FF0000" stroke-width="4" shape-rendering="crispEdges">
<path d="M223.0 636.5L850.0 636.5 851.0 636.5 852.0 636.7 853.0 636.9 854.0 637.1 855.0 637.3 856.0 637.5 857.0 637.5 858.0 637.5 859.0 637.5 860.0 637.5 861.0 637.6 862.0 637.6 863.0 637.6 864.0 637.6 865.0 637.7 866.0 637.7 867.0 637.8 868.0 637.8 869.0 637.9 870.0 637.9 871.0 638.0 872.0 638.0 873.0 638.1 874.0 638.1 875.0 638.1 876.0 638.1 877.0 638.2 878.0 638.2 879.0 638.2 880.0 638.2 881.0 638.2 882.0 638.1 883.0 638.1 884.0 638.0 885.0 637.8 886.0 637.7 887.0 637.5 888.0 637.4 889.0 637.2 890.0 637.0 891.0 636.9 892.0 636.7 893.0 636.6 894.0 636.6 895.0 636.5 896.0 636.5 897.0 636.5 898.0 636.5 899.0 636.6 900.0 636.6 901.0 636.7 902.0 636.8 903.0 636.8 904.0 636.9 905.0 636.9 906.0 637.0 907.0 637.0 908.0 637.0 909.0 637.0 910.0 637.1 911.0 637.2 912.0 637.4 913.0 637.7 914.0 637.9 915.0 638.2 916.0 638.5 917.0 638.8 918.0 639.1 919.0 639.4 920.0 639.6 921.0 639.9 922.0 640.1 923.0 640.2 924.0 640.3 925.0 640.3 926.0 640.3 927.0 640.2 928.0 640.2 929.0 640.1 930.0 640.1 931.0 640.0 932.0 640.0" stroke-dasharray="24.00 14.00" stroke-dashoffset="0.00"/>
<path d="M932.0 640.0L933.0 639.9 934.0 639.6 935.0 639.2 936.0 638.6 937.0 637.8 938.0 636.9 939.0 635.8 940.0 634.5 941.0 633.1 942.0 631.6 943.0 629.9 944.0 628.1 945.0 626.2 946.0 624.2 947.0 622.1 948.0 619.9 949.0 617.7 950.0 615.3 951.0 613.0 952.0 610.6 953.0 608.2 954.0 605.8 955.0 603.4 956.0 601.0 957.0 598.7 958.0 596.3 959.0 594.1 960.0 591.9 961.0 589.8 962.0 587.8 963.0 585.9 964.0 584.1 965.0 582.4 966.0 580.9 967.0 579.5 968.0 578.2 969.0 577.1 970.0 576.2 971.0 575.4 972.0 574.8 973.0 574.4 974.0 574.1 975.0 574.0" stroke-dasharray="24.04 14.02" stroke-dashoffset="25.66"/>
<path d="M975.0 574.0L976.0 574.3 977.0 575.1 978.0 576.6 979.0 578.5 979.9 581.1 980.9 584.1 981.9 587.7 982.9 591.8 983.9 596.4 984.9 601.5 985.9 607.0 986.9 613.0 987.8 619.4 988.8 626.1 989.8 633.2 990.8 640.6 991.8 648.3 992.8 656.2 993.8 664.4 994.8 672.7 995.7 681.2 996.7 689.8 997.7 698.4 998.7 707.1 999.7 715.9 1000.7 724.5 1001.7 733.1 1002.6 741.6 1003.6 749.9 1004.6 758.1 1005.6 766.0 1006.6 773.7 1007.6 781.1 1008.6 788.2 1009.6 794.9 1010.5 801.3 1011.5 807.3 1012.5 812.8 1013.5 817.9 1014.5 822.5 1015.5 826.6 1016.5 830.2 1017.5 833.2 1018.4 835.8 1019.4 837.7 1020.4 839.2 1021.4 840.0 1022.4 840.3" stroke-dasharray="23.01 13.42" stroke-dashoffset="29.72"/>
<path d="M1022.4 840.3L1023.4 839.6 1024.4 837.3 1025.3 833.7 1026.3 828.6 1027.3 822.0 1028.3 814.2 1029.3 805.0 1030.2 794.5 1031.2 782.9 1032.2 770.2 1033.2 756.4 1034.2 741.8 1035.1 726.2 1036.1 710.0 1037.1 693.1 1038.1 675.6 1039.1 657.8 1040.0 639.7 1041.0 621.3 1042.0 603.0 1043.0 584.6 1043.9 566.5 1044.9 548.7 1045.9 531.2 1046.9 514.3 1047.9 498.1 1048.8 482.5 1049.8 467.9 1050.8 454.1 1051.8 441.4 1052.8 429.8 1053.7 419.3 1054.7 410.1 1055.7 402.3 1056.7 395.7 1057.7 390.6 1058.6 387.0 1059.6 384.7 1060.6 384.0" stroke-dasharray="24.17 14.10" stroke-dashoffset="12.09"/>
<path d="M1060.6 384.0L1061.6 385.0 1062.6 387.9 1063.5 392.7 1064.5 399.4 1065.5 407.8 1066.5 417.9 1067.4 429.6 1068.4 442.8 1069.4 457.2 1070.4 472.8 1071.3 489.4 1072.3 506.7 1073.3 524.7 1074.3 543.0 1075.2 561.6 1076.2 580.2 1077.2 598.5 1078.2 616.5 1079.2 633.8 1080.1 650.4 1081.1 666.0 1082.1 680.4 1083.1 693.6 1084.0 705.3 1085.0 715.4 1086.0 723.8 1087.0 730.5 1087.9 735.3 1088.9 738.2 1089.9 739.2" stroke-dasharray="25.08 14.63" stroke-dashoffset="12.54"/>
<path d="M1089.9 739.2L1090.9 738.5 1091.9 736.3 1092.9 732.6 1093.9 727.7 1094.8 721.4 1095.8 713.9 1096.8 705.4 1097.8 695.9 1098.8 685.6 1099.8 674.7 1100.8 663.4 1101.8 651.8 1102.7 640.0 1103.7 628.4 1104.7 617.1 1105.7 606.2 1106.7 595.9 1107.7 586.4 1108.7 577.9 1109.7 570.4 1110.6 564.1 1111.6 559.2 1112.6 555.5 1113.6 553.3 1114.6 552.6" stroke-dasharray="23.92 13.95" stroke-dashoffset="11.96"/>
<path d="M1114.6 552.6L1115.6 553.7 1116.5 556.9 1117.5 562.1 1118.5 569.3 1119.5 578.3 1120.4 589.0 1121.4 601.1 1122.4 614.5 1123.4 628.9 1124.3 643.9 1125.3 659.4 1126.3 675.1 1127.3 690.6 1128.2 705.6 1129.2 720.0 1130.2 733.4 1131.2 745.5 1132.1 756.2 1133.1 765.2 1134.1 772.4 1135.1 777.6 1136.0 780.8 1137.0 781.9" stroke-dasharray="24.34 14.20" stroke-dashoffset="12.17"/>
<path d="M1137.0 781.9L1138.0 780.8 1139.0 777.6 1140.0 772.3 1141.0 765.0 1142.0 755.9 1143.0 745.0 1144.0 732.6 1145.0 718.9 1146.0 704.1 1147.0 688.5 1148.0 672.4 1149.0 656.0 1149.9 639.5 1150.9 623.4 1151.9 607.8 1152.9 593.0 1153.9 579.3 1154.9 566.9 1155.9 556.0 1156.9 546.9 1157.9 539.6 1158.9 534.3 1159.9 531.1 1160.9 530.0" stroke-dasharray="22.91 13.36" stroke-dashoffset="11.45"/>
<path d="M1160.9 530.0L1161.9 531.1 1162.8 534.4 1163.8 539.8 1164.7 547.1 1165.7 556.4 1166.7 567.3 1167.6 579.6 1168.6 593.1 1169.5 607.6 1170.5 622.6 1171.5 638.0 1172.4 653.4 1173.4 668.4 1174.3 682.9 1175.3 696.4 1176.2 708.7 1177.2 719.6 1178.2 728.9 1179.1 736.2 1180.1 741.6 1181.0 744.9 1182.0 746.0" stroke-dasharray="22.93 13.37" stroke-dashoffset="11.46"/>
<path d="M1182.0 746.0L1183.0 744.7 1183.9 741.0 1184.9 734.8 1185.9 726.5 1186.8 716.0 1187.8 703.8 1188.8 690.1 1189.8 675.3 1190.7 659.7 1191.7 643.6 1192.7 627.6 1193.6 612.0 1194.6 597.2 1195.6 583.5 1196.6 571.3 1197.5 560.8 1198.5 552.5 1199.5 546.3 1200.4 542.6 1201.4 541.3" stroke-dasharray="26.06 15.20" stroke-dashoffset="13.03"/>
<path d="M1201.4 541.3L1202.4 542.5 1203.4 546.2 1204.4 552.3 1205.4 560.5 1206.4 570.7 1207.4 582.6 1208.4 595.8 1209.4 610.0 1210.4 624.8 1211.3 639.9 1212.3 654.7 1213.3 668.9 1214.3 682.1 1215.3 694.0 1216.3 704.2 1217.3 712.4 1218.3 718.5 1219.3 722.2 1220.3 723.4" stroke-dasharray="23.21 13.54" stroke-dashoffset="11.61"/>
<path d="M1220.3 723.4L1221.3 722.0 1222.3 718.0 1223.3 711.4 1224.3 702.5 1225.3 691.5 1226.3 678.8 1227.3 664.7 1228.3 649.7 1229.2 634.2 1230.2 618.7 1231.2 603.7 1232.2 589.6 1233.2 576.9 1234.2 565.9 1235.2 557.0 1236.2 550.4 1237.2 546.4 1238.2 545.0" stroke-dasharray="22.73 13.26" stroke-dashoffset="11.36"/>
<path d="M1238.2 545.0L1239.2 546.4 1240.1 550.4 1241.0 557.1 1242.0 566.1 1243.0 577.3 1243.9 590.2 1244.8 604.4 1245.8 619.7 1246.8 635.4 1247.7 651.0 1248.7 666.3 1249.6 680.5 1250.5 693.4 1251.5 704.6 1252.5 713.6 1253.4 720.3 1254.3 724.3 1255.3 725.7" stroke-dasharray="23.00 13.42" stroke-dashoffset="11.50"/>
<path d="M1255.3 725.7L1256.3 724.2 1257.3 719.6 1258.2 712.2 1259.2 702.2 1260.2 690.0 1261.2 675.8 1262.2 660.4 1263.2 644.0 1264.1 627.5 1265.1 611.1 1266.1 595.7 1267.1 581.5 1268.1 569.3 1269.1 559.3 1270.0 551.9 1271.0 547.3 1272.0 545.8" stroke-dasharray="22.89 13.35" stroke-dashoffset="11.44"/>
<path d="M1272.0 545.8L1273.0 547.4 1274.0 552.3 1274.9 560.1 1275.9 570.7 1276.9 583.6 1277.9 598.3 1278.9 614.2 1279.8 630.8 1280.8 647.4 1281.8 663.3 1282.8 678.0 1283.8 690.9 1284.8 701.5 1285.7 709.3 1286.7 714.2 1287.7 715.8" stroke-dasharray="21.63 12.62" stroke-dashoffset="10.81"/>
<path d="M1287.7 715.8L1288.7 714.3 1289.7 710.0 1290.6 703.0 1291.6 693.5 1292.6 682.0 1293.6 668.9 1294.6 654.6 1295.6 639.8 1296.5 625.0 1297.5 610.7 1298.5 597.6 1299.5 586.1 1300.5 576.6 1301.4 569.6 1302.4 565.3 1303.4 563.8" stroke-dasharray="24.21 14.12" stroke-dashoffset="12.11"/>
<path d="M1303.4 563.8L1304.4 564.9 1305.4 568.4 1306.3 573.9 1307.3 581.4 1308.3 590.6 1309.3 601.2 1310.2 612.8 1311.2 625.0 1312.2 637.5 1313.2 649.7 1314.1 661.3 1315.1 671.9 1316.1 681.1 1317.1 688.6 1318.0 694.1 1319.0 697.6 1320.0 698.7" stroke-dasharray="21.57 12.58" stroke-dashoffset="10.78"/>
<path d="M1320.0 698.7L1321.0 697.3 1321.9 693.3 1322.9 686.7 1323.9 678.0 1324.9 667.4 1325.8 655.4 1326.8 642.6 1327.8 629.4 1328.8 616.6 1329.7 604.6 1330.7 594.0 1331.7 585.3 1332.7 578.7 1333.6 574.7 1334.6 573.3" stroke-dasharray="26.69 15.57" stroke-dashoffset="13.35"/>
<path d="M1334.6 573.3L1335.6 574.6 1336.5 578.3 1337.5 584.3 1338.5 592.3 1339.5 602.0 1340.4 612.9 1341.4 624.7 1342.4 636.6 1343.4 648.4 1344.3 659.3 1345.3 669.0 1346.3 677.0 1347.3 683.0 1348.2 686.7 1349.2 688.0" stroke-dasharray="24.46 14.27" stroke-dashoffset="12.23"/>
<path d="M1349.2 688.0L1350.2 687.1 1351.2 684.5 1352.2 680.2 1353.2 674.4 1354.2 667.2 1355.2 659.0 1356.2 650.0 1357.2 640.6 1358.1 630.9 1359.1 621.5 1360.1 612.5 1361.1 604.3 1362.1 597.1 1363.1 591.3 1364.1 587.0 1365.1 584.4 1366.1 583.5" stroke-dasharray="22.46 13.10" stroke-dashoffset="11.23"/>
<path d="M1366.1 583.5L1367.0 585.1 1368.0 590.0 1368.9 597.6 1369.8 607.6 1370.8 619.3 1371.7 631.8 1372.6 644.2 1373.6 655.9 1374.5 665.9 1375.4 673.5 1376.4 678.4 1377.3 680.0" stroke-dasharray="20.53 11.98" stroke-dashoffset="10.26"/>
<path d="M1377.3 680.0L1378.3 679.1 1379.3 676.3 1380.2 671.7 1381.2 665.7 1382.2 658.4 1383.2 650.1 1384.2 641.3 1385.1 632.3 1386.1 623.5 1387.1 615.2 1388.1 607.9 1389.1 601.9 1390.0 597.3 1391.0 594.5 1392.0 593.6" stroke-dasharray="27.90 16.27" stroke-dashoffset="13.95"/>
<path d="M1392.0 593.6L1392.9 594.7 1393.9 598.0 1394.8 603.2 1395.8 610.1 1396.7 618.3 1397.7 627.2 1398.6 636.4 1399.6 645.3 1400.5 653.5 1401.5 660.4 1402.4 665.6 1403.4 668.9 1404.3 670.0" stroke-dasharray="24.61 14.35" stroke-dashoffset="12.30"/>
<path d="M1404.3 670.0L1405.3 669.2 1406.2 666.7 1407.2 662.6 1408.2 657.3 1409.1 650.9 1410.1 643.8 1411.0 636.3 1412.0 628.8 1413.0 621.7 1413.9 615.3 1414.9 610.0 1415.9 605.9 1416.8 603.4 1417.8 602.6" stroke-dasharray="21.93 12.79" stroke-dashoffset="10.96"/>
<path d="M1417.8 602.6L1418.8 603.3 1419.7 605.2 1420.7 608.4 1421.7 612.6 1422.7 617.8 1423.6 623.6 1424.6 629.8 1425.6 636.1 1426.6 642.3 1427.5 648.1 1428.5 653.3 1429.5 657.5 1430.5 660.7 1431.4 662.6 1432.4 663.3" stroke-dasharray="19.98 11.65" stroke-dashoffset="9.99"/>
<path d="M1432.4 663.3L1433.3 662.1 1434.2 658.6 1435.2 653.0 1436.1 645.9 1437.0 637.7 1437.9 629.3 1438.8 621.1 1439.7 614.0 1440.7 608.4 1441.6 604.9 1442.5 603.7" stroke-dasharray="19.22 11.21" stroke-dashoffset="9.61"/>
<path d="M1442.5 603.7L1443.5 604.4 1444.4 606.4 1445.4 609.7 1446.4 614.1 1447.4 619.4 1448.3 625.4 1449.3 631.9 1450.3 638.4 1451.3 644.9 1452.2 650.9 1453.2 656.2 1454.2 660.6 1455.2 663.9 1456.1 665.9 1457.1 666.6" stroke-dasharray="20.65 12.05" stroke-dashoffset="10.33"/>
<path d="M1457.1 666.6L1458.1 665.8 1459.1 663.5 1460.1 659.9 1461.1 655.0 1462.1 649.1 1463.1 642.6 1464.0 635.7 1465.0 628.8 1466.0 622.3 1467.0 616.4 1468.0 611.5 1469.0 607.9 1470.0 605.6 1471.0 604.8" stroke-dasharray="20.24 11.81" stroke-dashoffset="10.12"/>
<path d="M1471.0 604.8L1472.0 605.8 1473.0 608.8 1474.0 613.5 1475.0 619.7 1476.0 626.9 1477.0 634.6 1478.0 642.3 1479.0 649.5 1480.0 655.7 1481.0 660.4 1482.0 663.4 1483.0 664.4" stroke-dasharray="19.38 11.31" stroke-dashoffset="9.69"/>
<path d="M1483.0 664.4L1484.0 663.8 1484.9 662.1 1485.9 659.2 1486.9 655.5 1487.9 650.9 1488.8 645.7 1489.8 640.2 1490.8 634.6 1491.8 629.1 1492.7 623.9 1493.7 619.3 1494.7 615.6 1495.7 612.7 1496.6 611.0 1497.6 610.4" stroke-dasharray="35.88 20.93" stroke-dashoffset="17.94"/>
<path d="M1497.6 610.4L1498.6 611.1 1499.6 613.0 1500.6 616.2 1501.6 620.4 1502.6 625.3 1503.6 630.7 1504.6 636.2 1505.6 641.6 1506.6 646.5 1507.6 650.7 1508.6 653.9 1509.6 655.8 1510.6 656.5" stroke-dasharray="30.74 17.93" stroke-dashoffset="15.37"/>
<path d="M1510.6 656.5L1511.6 656.0 1512.6 654.6 1513.6 652.2 1514.6 649.1 1515.6 645.4 1516.6 641.2 1517.6 636.9 1518.6 632.5 1519.6 628.3 1520.6 624.6 1521.6 621.5 1522.6 619.1 1523.6 617.7 1524.6 617.2" stroke-dasharray="26.92 15.70" stroke-dashoffset="13.46"/>
<path d="M1524.6 617.2L1525.6 617.7 1526.6 619.0 1527.6 621.2 1528.5 624.0 1529.5 627.4 1530.5 631.1 1531.5 634.8 1532.5 638.5 1533.5 641.9 1534.4 644.7 1535.4 646.9 1536.4 648.2 1537.4 648.7" stroke-dasharray="22.00 12.83" stroke-dashoffset="11.00"/>
<path d="M1537.4 648.7L1538.4 648.4 1539.3 647.5 1540.3 646.1 1541.3 644.2 1542.2 642.0 1543.2 639.5 1544.2 636.9 1545.1 634.2 1546.1 631.7 1547.0 629.5 1548.0 627.6 1549.0 626.2 1549.9 625.3 1550.9 625.0" stroke-dasharray="17.77 10.37" stroke-dashoffset="8.88"/>
<path d="M1550.9 625.0L1551.9 625.6 1552.9 627.3 1553.8 629.9 1554.8 632.9 1555.8 635.9 1556.8 638.5 1557.7 640.2 1558.7 640.8 1559.7 640.7 1560.6 640.6 1561.6 640.2 1562.5 639.8 1563.5 639.3 1564.4 638.7 1565.4 638.0 1566.3 637.3 1567.3 636.5 1568.2 635.8 1569.2 635.0 1570.2 634.2 1571.1 633.5 1572.1 632.8 1573.0 632.2 1574.0 631.7 1574.9 631.3 1575.9 630.9 1576.8 630.8 1577.8 630.7" stroke-dasharray="25.34 14.78" stroke-dashoffset="12.67"/>
<path d="M1577.8 630.7L1578.7 630.8 1579.7 631.1 1580.6 631.7 1581.6 632.4 1582.5 633.2 1583.4 634.1 1584.4 635.1 1585.3 636.0 1586.2 636.8 1587.2 637.5 1588.1 638.1 1589.1 638.4 1590.0 638.5 1591.0 638.4 1591.9 638.2 1592.9 637.9 1593.9 637.4 1594.8 636.9 1595.8 636.3 1596.8 635.8 1597.8 635.2 1598.7 634.7 1599.7 634.2 1600.7 633.9 1601.6 633.7 1602.6 633.6 1603.6 633.6 1604.5 633.8 1605.5 634.0 1606.4 634.3 1607.4 634.7 1608.3 635.1 1609.3 635.5 1610.2 635.9 1611.2 636.3 1612.1 636.6 1613.1 636.8 1614.0 637.0 1615.0 637.0 1616.0 637.0 1617.0 637.0 1618.0 636.9 1619.0 636.8 1620.0 636.8 1621.0 636.7 1622.0 636.6 1623.0 636.5 1624.0 636.5 1625.0 636.5 1728.0 636.5" stroke-dasharray="24.00 14.00" stroke-dashoffset="12.00"/>
</g>
<path d="M225.5 776.9H923.2V502.5H225.5Z" stroke="#000" stroke-width="2.6" stroke-dasharray="24.4 13.74" stroke-dashoffset="24.4"/>
</g>
<g font-size="51" fill="#404040" text-anchor="end" stroke="#fff" stroke-width="0.5">
<text x="202.8" y="93.0">0.1</text>
<text x="205.4" y="205.0">0.08</text>
<text x="205.4" y="317.0">0.06</text>
<text x="205.4" y="429.0">0.04</text>
<text x="205.4" y="541.0">0.02</text>
<text x="205.4" y="653.0">0</text>
<text x="205.4" y="765.0">-0.02</text>
<text x="205.4" y="877.0">-0.04</text>
<text x="205.4" y="989.0">-0.06</text>
<text x="205.4" y="1101.0">-0.08</text>
<text x="202.8" y="1213.0">-0.1</text>
</g>
<g font-size="51" fill="#404040" text-anchor="middle" stroke="#fff" stroke-width="0.5">
<text x="223.3" y="1259">0</text>
<text x="521.5" y="1259">0.1</text>
<text x="825.3" y="1259">0.2</text>
<text x="1126.3" y="1259">0.3</text>
<text x="1427.3" y="1259">0.4</text>
<text x="1728.3" y="1259">0.5</text>
</g>
<text x="975.5" y="1328" font-size="57" fill="#404040" text-anchor="middle">Time (ms)</text>
<text transform="translate(78.6 638.3) rotate(-90)" font-size="56.3" fill="#222" text-anchor="middle">Normalized amplitude</text>
<path d="M244 149H340" stroke="#0072BD" stroke-width="2" shape-rendering="crispEdges"/>
<path d="M244 211H340" stroke="#FF0000" stroke-width="4" stroke-dasharray="25 13" shape-rendering="crispEdges"/>
<text transform="translate(346.5 167.3) scale(0.981 1)" font-size="52" fill="#000">Response signal</text>
<text transform="translate(346.5 229) scale(0.981 1)" font-size="52" fill="#000">Extracted components</text>
<text transform="translate(275.5 483.8) scale(0.981 1)" font-size="52" fill="#000">Electromagnetic Interference</text>
</svg>
</body></html>
